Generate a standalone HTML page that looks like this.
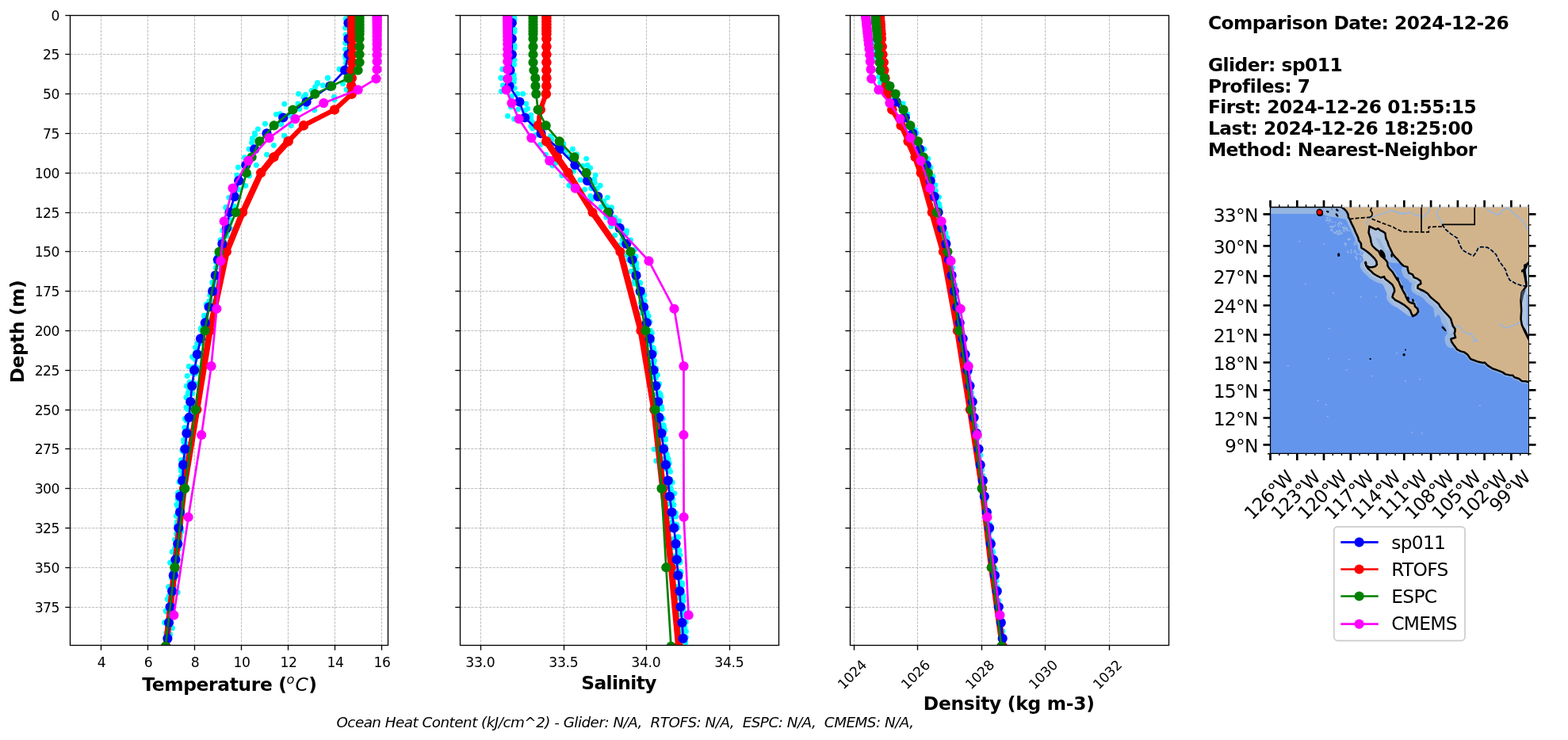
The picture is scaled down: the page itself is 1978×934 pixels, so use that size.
<!DOCTYPE html>
<html lang="en">
<head>
<meta charset="utf-8">
<title>Glider / model profile comparison</title>
<style>
html,body{margin:0;padding:0;background:#fff}
body{width:1978px;height:934px;overflow:hidden}
svg{display:block}
text{font-family:"DejaVu Sans","Liberation Sans",sans-serif;fill:#000}
.grid line{stroke:#b0b0b0;stroke-width:0.83;stroke-dasharray:3.2 1.38}
.tick line{stroke:#000;stroke-width:1.33}
.spine{fill:none;stroke:#000;stroke-width:1.33}
.tl{font-size:17.2px;letter-spacing:-0.45px}
.tr{font-size:17.2px;letter-spacing:-0.2px}
.tl2{font-size:17.2px;letter-spacing:-0.25px}
.al{font-size:23.33px;font-weight:bold}
.mi{font-style:italic;font-weight:normal}
.ft{font-size:18.33px;font-style:italic}
.info{font-size:23.33px;font-weight:bold;letter-spacing:-0.5px}
.lg{font-size:23.33px;letter-spacing:-0.72px}
.ml{font-size:23.33px;letter-spacing:-0.75px}
</style>
</head>
<body>
<svg width="1978" height="934" viewBox="0 0 1978 934">
<defs>
<clipPath id="c0"><rect x="88.5" y="19.5" width="401" height="795"/></clipPath>
<clipPath id="c1"><rect x="580.5" y="19.5" width="402" height="795"/></clipPath>
<clipPath id="c2"><rect x="1072.5" y="19.5" width="402" height="795"/></clipPath>
<clipPath id="u0"><rect x="88.5" y="19.5" width="401" height="198.7"/></clipPath>
<clipPath id="u1"><rect x="580.5" y="19.5" width="402" height="198.7"/></clipPath>
<clipPath id="u2"><rect x="1072.5" y="19.5" width="402" height="198.7"/></clipPath>
<clipPath id="mc"><rect x="1602.5" y="261.5" width="326" height="310.8"/></clipPath>
</defs>
<rect width="1978" height="934" fill="#fff"/>
<g class="grid"><line x1="127.5" y1="19.5" x2="127.5" y2="814.5"/><line x1="186.5" y1="19.5" x2="186.5" y2="814.5"/><line x1="245.5" y1="19.5" x2="245.5" y2="814.5"/><line x1="304.5" y1="19.5" x2="304.5" y2="814.5"/><line x1="363.5" y1="19.5" x2="363.5" y2="814.5"/><line x1="422.5" y1="19.5" x2="422.5" y2="814.5"/><line x1="481.5" y1="19.5" x2="481.5" y2="814.5"/><line x1="88.5" y1="68.5" x2="489.5" y2="68.5"/><line x1="88.5" y1="118.5" x2="489.5" y2="118.5"/><line x1="88.5" y1="168.5" x2="489.5" y2="168.5"/><line x1="88.5" y1="218.5" x2="489.5" y2="218.5"/><line x1="88.5" y1="268.5" x2="489.5" y2="268.5"/><line x1="88.5" y1="317.5" x2="489.5" y2="317.5"/><line x1="88.5" y1="367.5" x2="489.5" y2="367.5"/><line x1="88.5" y1="417.5" x2="489.5" y2="417.5"/><line x1="88.5" y1="467.5" x2="489.5" y2="467.5"/><line x1="88.5" y1="517.5" x2="489.5" y2="517.5"/><line x1="88.5" y1="566.5" x2="489.5" y2="566.5"/><line x1="88.5" y1="616.5" x2="489.5" y2="616.5"/><line x1="88.5" y1="666.5" x2="489.5" y2="666.5"/><line x1="88.5" y1="716.5" x2="489.5" y2="716.5"/><line x1="88.5" y1="766.5" x2="489.5" y2="766.5"/></g>
<g clip-path="url(#c0)">
<g fill="#00ffff"><circle cx="284.98" cy="282.3" r="3.45"/><circle cx="290.01" cy="281.74" r="3.45"/><circle cx="282.49" cy="290.07" r="3.45"/><circle cx="286.91" cy="292.73" r="3.45"/><circle cx="280.35" cy="302.49" r="3.45"/><circle cx="282.75" cy="305.51" r="3.45"/><circle cx="277.36" cy="317.66" r="3.45"/><circle cx="281.57" cy="315.7" r="3.45"/><circle cx="274.11" cy="322.53" r="3.45"/><circle cx="277.62" cy="322.8" r="3.45"/><circle cx="272.4" cy="330.73" r="3.45"/><circle cx="275.95" cy="333.18" r="3.45"/><circle cx="269.98" cy="346.38" r="3.45"/><circle cx="274.22" cy="346.51" r="3.45"/><circle cx="268.82" cy="358.22" r="3.45"/><circle cx="273.62" cy="357.28" r="3.45"/><circle cx="266.71" cy="364.83" r="3.45"/><circle cx="270.04" cy="363.88" r="3.45"/><circle cx="263.92" cy="380.07" r="3.45"/><circle cx="267.65" cy="380.74" r="3.45"/><circle cx="261.99" cy="388.3" r="3.45"/><circle cx="266" cy="389.86" r="3.45"/><circle cx="258.03" cy="400.32" r="3.45"/><circle cx="262.29" cy="404.53" r="3.45"/><circle cx="256.46" cy="410.45" r="3.45"/><circle cx="260.77" cy="412.99" r="3.45"/><circle cx="253.91" cy="416.74" r="3.45"/><circle cx="256.59" cy="420.9" r="3.45"/><circle cx="250.93" cy="426.85" r="3.45"/><circle cx="254.58" cy="428.55" r="3.45"/><circle cx="249.09" cy="432.63" r="3.45"/><circle cx="253.43" cy="433.2" r="3.45"/><circle cx="246.56" cy="445.31" r="3.45"/><circle cx="251.37" cy="445.8" r="3.45"/><circle cx="246.18" cy="453.85" r="3.45"/><circle cx="250.46" cy="449.34" r="3.45"/><circle cx="244.12" cy="463.17" r="3.45"/><circle cx="248.29" cy="463.59" r="3.45"/><circle cx="243.04" cy="470.91" r="3.45"/><circle cx="246.49" cy="471.82" r="3.45"/><circle cx="240.85" cy="483.65" r="3.45"/><circle cx="245.78" cy="483.83" r="3.45"/><circle cx="238.57" cy="492.44" r="3.45"/><circle cx="242.82" cy="496.77" r="3.45"/><circle cx="238.74" cy="504.34" r="3.45"/><circle cx="242.91" cy="508.82" r="3.45"/><circle cx="236.49" cy="516.62" r="3.45"/><circle cx="241.91" cy="513.87" r="3.45"/><circle cx="237.84" cy="524.69" r="3.45"/><circle cx="240.45" cy="523.15" r="3.45"/><circle cx="235.15" cy="531.01" r="3.45"/><circle cx="239.6" cy="528.5" r="3.45"/><circle cx="235.05" cy="540.09" r="3.45"/><circle cx="238.43" cy="543.82" r="3.45"/><circle cx="233.21" cy="554.85" r="3.45"/><circle cx="236.27" cy="549.47" r="3.45"/><circle cx="231.94" cy="558.31" r="3.45"/><circle cx="235.31" cy="560.15" r="3.45"/><circle cx="231.51" cy="570.51" r="3.45"/><circle cx="235.76" cy="574.2" r="3.45"/><circle cx="229.08" cy="582.73" r="3.45"/><circle cx="232.91" cy="579.45" r="3.45"/><circle cx="227.98" cy="590.51" r="3.45"/><circle cx="234.1" cy="586.44" r="3.45"/><circle cx="228.44" cy="601.46" r="3.45"/><circle cx="232.2" cy="603.06" r="3.45"/><circle cx="227.87" cy="608.92" r="3.45"/><circle cx="233.06" cy="608.92" r="3.45"/><circle cx="225.7" cy="621.16" r="3.45"/><circle cx="230.22" cy="619.78" r="3.45"/><circle cx="224.32" cy="630.54" r="3.45"/><circle cx="229.97" cy="633.21" r="3.45"/><circle cx="224.7" cy="640.73" r="3.45"/><circle cx="229.36" cy="642.08" r="3.45"/><circle cx="224.39" cy="651.83" r="3.45"/><circle cx="229.73" cy="650.24" r="3.45"/><circle cx="223.38" cy="658.66" r="3.45"/><circle cx="227.97" cy="660.2" r="3.45"/><circle cx="222.71" cy="662.84" r="3.45"/><circle cx="227.69" cy="665.53" r="3.45"/><circle cx="222.38" cy="673.98" r="3.45"/><circle cx="227.27" cy="676.51" r="3.45"/><circle cx="223.47" cy="681.31" r="3.45"/><circle cx="226.98" cy="680.72" r="3.45"/><circle cx="220.7" cy="691.44" r="3.45"/><circle cx="225.67" cy="692.82" r="3.45"/><circle cx="219.93" cy="697.6" r="3.45"/><circle cx="224.34" cy="701.24" r="3.45"/><circle cx="217.73" cy="711.15" r="3.45"/><circle cx="222.95" cy="710.75" r="3.45"/><circle cx="217.56" cy="721.64" r="3.45"/><circle cx="222.52" cy="720.89" r="3.45"/><circle cx="216.67" cy="730.3" r="3.45"/><circle cx="220.27" cy="730.93" r="3.45"/><circle cx="215.66" cy="741.28" r="3.45"/><circle cx="219.66" cy="739.42" r="3.45"/><circle cx="213.13" cy="752.23" r="3.45"/><circle cx="217.46" cy="749.71" r="3.45"/><circle cx="213.67" cy="765.95" r="3.45"/><circle cx="217.02" cy="763.56" r="3.45"/><circle cx="212.72" cy="774.23" r="3.45"/><circle cx="215.76" cy="773.56" r="3.45"/><circle cx="211.28" cy="786.19" r="3.45"/><circle cx="213.91" cy="789.11" r="3.45"/><circle cx="209.65" cy="798.9" r="3.45"/><circle cx="214.81" cy="800.71" r="3.45"/><circle cx="209.96" cy="808.89" r="3.45"/><circle cx="212.79" cy="806.11" r="3.45"/><circle cx="437.36" cy="23.93" r="3.45"/><circle cx="438.09" cy="31.02" r="3.45"/><circle cx="437.8" cy="45" r="3.45"/><circle cx="437.08" cy="54.6" r="3.45"/><circle cx="438.08" cy="64.81" r="3.45"/><circle cx="435.45" cy="70.48" r="3.45"/><circle cx="434.66" cy="86.1" r="3.45"/><circle cx="428.51" cy="87.22" r="3.45"/><circle cx="413.57" cy="98.3" r="3.45"/><circle cx="436.22" cy="23.63" r="3.45"/><circle cx="435.73" cy="35.2" r="3.45"/><circle cx="436.02" cy="43.87" r="3.45"/><circle cx="435.73" cy="54.47" r="3.45"/><circle cx="435.73" cy="62.17" r="3.45"/><circle cx="436.02" cy="73.74" r="3.45"/><circle cx="436.41" cy="79.52" r="3.45"/><circle cx="400.57" cy="104.57" r="3.45"/><circle cx="428.02" cy="87.54" r="3.45"/><circle cx="413.36" cy="98.46" r="3.45"/><circle cx="400.21" cy="105.74" r="3.45"/><circle cx="407.29" cy="107.76" r="3.45"/><circle cx="397.68" cy="109.78" r="3.45"/><circle cx="432.57" cy="105.74" r="3.45"/><circle cx="437.12" cy="113.32" r="3.45"/><circle cx="393.13" cy="114.33" r="3.45"/><circle cx="376.45" cy="118.38" r="3.45"/><circle cx="385.55" cy="119.39" r="3.45"/><circle cx="383.02" cy="122.42" r="3.45"/><circle cx="421.45" cy="122.42" r="3.45"/><circle cx="421.95" cy="125.96" r="3.45"/><circle cx="358.76" cy="131.22" r="3.45"/><circle cx="375.95" cy="131.02" r="3.45"/><circle cx="377.97" cy="137.59" r="3.45"/><circle cx="386.06" cy="135.06" r="3.45"/><circle cx="396.67" cy="139.11" r="3.45"/><circle cx="348.44" cy="144.36" r="3.45"/><circle cx="353.2" cy="143.66" r="3.45"/><circle cx="366.85" cy="146.18" r="3.45"/><circle cx="334.49" cy="156.3" r="3.45"/><circle cx="354.71" cy="156.8" r="3.45"/><circle cx="367.35" cy="158.62" r="3.45"/><circle cx="325.39" cy="162.87" r="3.45"/><circle cx="321.34" cy="168.13" r="3.45"/><circle cx="358.76" cy="171.16" r="3.45"/><circle cx="318.31" cy="175" r="3.45"/><circle cx="321.62" cy="170" r="3.45"/><circle cx="358.52" cy="171.52" r="3.45"/><circle cx="318.28" cy="175.06" r="3.45"/><circle cx="317.57" cy="180.11" r="3.45"/><circle cx="345.38" cy="183.45" r="3.45"/><circle cx="314.03" cy="188.2" r="3.45"/><circle cx="336.48" cy="195.28" r="3.45"/><circle cx="308.47" cy="198.82" r="3.45"/><circle cx="323.34" cy="208.42" r="3.45"/><circle cx="300.38" cy="211.25" r="3.45"/><circle cx="298.87" cy="221.06" r="3.45"/><circle cx="314.54" cy="222.07" r="3.45"/><circle cx="309.79" cy="234.41" r="3.45"/><circle cx="300.89" cy="239.26" r="3.45"/><circle cx="288.76" cy="249.37" r="3.45"/><circle cx="295.33" cy="260.5" r="3.45"/><circle cx="284.71" cy="262.01" r="3.45"/><circle cx="285.44" cy="261.56" r="3.45"/><circle cx="295.05" cy="260.55" r="3.45"/><circle cx="291" cy="277.74" r="3.45"/><circle cx="280.89" cy="290.88" r="3.45"/><circle cx="290.5" cy="288.36" r="3.45"/><circle cx="277.86" cy="303.02" r="3.45"/><circle cx="285.95" cy="297.96" r="3.45"/><circle cx="272.3" cy="337.9" r="3.45"/><circle cx="260.17" cy="384.2" r="3.45"/><circle cx="257.43" cy="398.24" r="3.45"/><circle cx="253.32" cy="414.52" r="3.45"/><circle cx="246.47" cy="438.5" r="3.45"/><circle cx="242.53" cy="450.49" r="3.45"/><circle cx="238.24" cy="462.48" r="3.45"/><circle cx="236.19" cy="474.48" r="3.45"/><circle cx="235.33" cy="487.32" r="3.45"/><circle cx="239.1" cy="482.18" r="3.45"/><circle cx="237.39" cy="495.89" r="3.45"/><circle cx="267.71" cy="356.27" r="3.45"/><circle cx="264.8" cy="372.55" r="3.45"/><circle cx="237.09" cy="496.85" r="3.45"/><circle cx="234.86" cy="501.65" r="3.45"/><circle cx="235.03" cy="513.98" r="3.45"/><circle cx="233.32" cy="528.54" r="3.45"/><circle cx="232.81" cy="539.68" r="3.45"/><circle cx="231.61" cy="555.1" r="3.45"/><circle cx="229.89" cy="568.8" r="3.45"/><circle cx="228.52" cy="580.79" r="3.45"/><circle cx="228.52" cy="594.5" r="3.45"/><circle cx="225.95" cy="608.2" r="3.45"/><circle cx="224.24" cy="622.76" r="3.45"/><circle cx="222.87" cy="636.98" r="3.45"/><circle cx="222.23" cy="651.13" r="3.45"/><circle cx="220.51" cy="681.11" r="3.45"/><circle cx="217.09" cy="696.53" r="3.45"/><circle cx="214.52" cy="710.24" r="3.45"/><circle cx="212.81" cy="741.07" r="3.45"/><circle cx="211.61" cy="756.49" r="3.45"/><circle cx="209.38" cy="771.05" r="3.45"/><circle cx="207.67" cy="785.61" r="3.45"/><circle cx="216.23" cy="792.46" r="3.45"/><circle cx="223.94" cy="747.92" r="3.45"/><circle cx="229.08" cy="670.84" r="3.45"/><circle cx="212.63" cy="740.6" r="3.45"/><circle cx="211.19" cy="756.02" r="3.45"/><circle cx="209.26" cy="771.43" r="3.45"/><circle cx="207.81" cy="785.89" r="3.45"/><circle cx="217.45" cy="792.63" r="3.45"/><circle cx="224.2" cy="747.34" r="3.45"/></g>
<g>
<line x1="444.3" y1="19" x2="444.29" y2="22.98" stroke="#ff0000" stroke-width="7.8" stroke-linecap="round"/>
<line x1="444.29" y1="22.98" x2="444.29" y2="26.97" stroke="#ff0000" stroke-width="7.8" stroke-linecap="round"/>
<line x1="444.29" y1="26.97" x2="444.28" y2="30.95" stroke="#ff0000" stroke-width="7.8" stroke-linecap="round"/>
<line x1="444.28" y1="30.95" x2="444.27" y2="34.94" stroke="#ff0000" stroke-width="7.8" stroke-linecap="round"/>
<line x1="444.27" y1="34.94" x2="444.27" y2="38.92" stroke="#ff0000" stroke-width="7.8" stroke-linecap="round"/>
<line x1="444.27" y1="38.92" x2="444.26" y2="42.9" stroke="#ff0000" stroke-width="7.8" stroke-linecap="round"/>
<line x1="444.26" y1="42.9" x2="444.25" y2="48.88" stroke="#ff0000" stroke-width="7.8" stroke-linecap="round"/>
<line x1="444.25" y1="48.88" x2="444.23" y2="58.84" stroke="#ff0000" stroke-width="7.8" stroke-linecap="round"/>
<line x1="444.23" y1="58.84" x2="444.22" y2="68.8" stroke="#ff0000" stroke-width="7.8" stroke-linecap="round"/>
<line x1="444.22" y1="68.8" x2="444.2" y2="78.76" stroke="#ff0000" stroke-width="7.8" stroke-linecap="round"/>
<line x1="444.2" y1="78.76" x2="443.2" y2="88.72" stroke="#ff0000" stroke-width="7.8" stroke-linecap="round"/>
<line x1="443.2" y1="88.72" x2="443.7" y2="98.68" stroke="#ff0000" stroke-width="7.8" stroke-linecap="round"/>
<line x1="443.7" y1="98.68" x2="443.3" y2="108.64" stroke="#ff0000" stroke-width="7.8" stroke-linecap="round"/>
<line x1="443.3" y1="108.64" x2="443.7" y2="118.6" stroke="#ff0000" stroke-width="7.8" stroke-linecap="round"/>
<line x1="443.7" y1="118.6" x2="422" y2="138.52" stroke="#ff0000" stroke-width="5.8" stroke-linecap="round"/>
<line x1="422" y1="138.52" x2="383" y2="158.44" stroke="#ff0000" stroke-width="5.8" stroke-linecap="round"/>
<line x1="383" y1="158.44" x2="363.6" y2="178.36" stroke="#ff0000" stroke-width="5.8" stroke-linecap="round"/>
<line x1="363.6" y1="178.36" x2="345.4" y2="198.28" stroke="#ff0000" stroke-width="7.8" stroke-linecap="round"/>
<line x1="345.4" y1="198.28" x2="329.2" y2="218.2" stroke="#ff0000" stroke-width="7.8" stroke-linecap="round"/>
<line x1="329.2" y1="218.2" x2="306.2" y2="268" stroke="#ff0000" stroke-width="7.8" stroke-linecap="round"/>
<line x1="306.2" y1="268" x2="285.9" y2="317.8" stroke="#ff0000" stroke-width="7.8" stroke-linecap="round"/>
<line x1="285.9" y1="317.8" x2="264.8" y2="417.4" stroke="#ff0000" stroke-width="7.8" stroke-linecap="round"/>
<line x1="264.8" y1="417.4" x2="248.4" y2="517" stroke="#ff0000" stroke-width="7.8" stroke-linecap="round"/>
<line x1="248.4" y1="517" x2="232" y2="616.6" stroke="#ff0000" stroke-width="7.8" stroke-linecap="round"/>
<line x1="232" y1="616.6" x2="220.5" y2="716.2" stroke="#ff0000" stroke-width="7.8" stroke-linecap="round"/>
<line x1="220.5" y1="716.2" x2="209.5" y2="815.8" stroke="#ff0000" stroke-width="7.8" stroke-linecap="round"/>
<g fill="#ff0000"><circle cx="444.3" cy="19" r="6.1"/><circle cx="444.29" cy="22.98" r="6.1"/><circle cx="444.29" cy="26.97" r="6.1"/><circle cx="444.28" cy="30.95" r="6.1"/><circle cx="444.27" cy="34.94" r="6.1"/><circle cx="444.27" cy="38.92" r="6.1"/><circle cx="444.26" cy="42.9" r="6.1"/><circle cx="444.25" cy="48.88" r="6.1"/><circle cx="444.23" cy="58.84" r="6.1"/><circle cx="444.22" cy="68.8" r="6.1"/><circle cx="444.2" cy="78.76" r="6.1"/><circle cx="443.2" cy="88.72" r="6.1"/><circle cx="443.7" cy="98.68" r="6.1"/><circle cx="443.3" cy="108.64" r="6.1"/><circle cx="443.7" cy="118.6" r="6.1"/><circle cx="422" cy="138.52" r="6.1"/><circle cx="383" cy="158.44" r="6.1"/><circle cx="363.6" cy="178.36" r="6.1"/><circle cx="345.4" cy="198.28" r="6.1"/><circle cx="329.2" cy="218.2" r="6.1"/><circle cx="306.2" cy="268" r="6.1"/><circle cx="285.9" cy="317.8" r="6.1"/><circle cx="264.8" cy="417.4" r="6.1"/><circle cx="248.4" cy="517" r="6.1"/><circle cx="232" cy="616.6" r="6.1"/><circle cx="220.5" cy="716.2" r="6.1"/><circle cx="209.5" cy="815.8" r="6.1"/></g></g>
<g>
<polyline fill="none" stroke="#0000ff" stroke-width="2.7" stroke-linejoin="round" stroke-linecap="round" points="439.4,28.96 439.4,48.88 439.4,68.8 435,88.72 416.4,108.64 386.6,128.56 357.2,148.48 336.5,168.4 321.1,188.32 310.3,208.24 301.2,228.16 295.8,248.08 289.5,268 285.9,287.92 280.4,307.84 274.8,327.76 271.8,347.68 268.2,367.6 263.6,387.52 258.8,407.44 253.1,427.36 248.9,447.28 245.1,467.2 242.2,487.12 240.2,507.04 238.5,526.96 235.4,546.88 233.3,566.8 231.1,586.72 230.2,606.64 227.3,626.56 227,646.48 225.3,666.4 224.3,686.32 221.4,706.24 218.8,726.16 217.1,746.08 214.6,766 213,785.92 211.4,805.84"/>
<g fill="#0000ff"><circle cx="439.4" cy="28.96" r="6.1"/><circle cx="439.4" cy="48.88" r="6.1"/><circle cx="439.4" cy="68.8" r="6.1"/><circle cx="435" cy="88.72" r="6.1"/><circle cx="416.4" cy="108.64" r="6.1"/><circle cx="386.6" cy="128.56" r="6.1"/><circle cx="357.2" cy="148.48" r="6.1"/><circle cx="336.5" cy="168.4" r="6.1"/><circle cx="321.1" cy="188.32" r="6.1"/><circle cx="310.3" cy="208.24" r="6.1"/><circle cx="301.2" cy="228.16" r="6.1"/><circle cx="295.8" cy="248.08" r="6.1"/><circle cx="289.5" cy="268" r="6.1"/><circle cx="285.9" cy="287.92" r="6.1"/><circle cx="280.4" cy="307.84" r="6.1"/><circle cx="274.8" cy="327.76" r="6.1"/><circle cx="271.8" cy="347.68" r="6.1"/><circle cx="268.2" cy="367.6" r="6.1"/><circle cx="263.6" cy="387.52" r="6.1"/><circle cx="258.8" cy="407.44" r="6.1"/><circle cx="253.1" cy="427.36" r="6.1"/><circle cx="248.9" cy="447.28" r="6.1"/><circle cx="245.1" cy="467.2" r="6.1"/><circle cx="242.2" cy="487.12" r="6.1"/><circle cx="240.2" cy="507.04" r="6.1"/><circle cx="238.5" cy="526.96" r="6.1"/><circle cx="235.4" cy="546.88" r="6.1"/><circle cx="233.3" cy="566.8" r="6.1"/><circle cx="231.1" cy="586.72" r="6.1"/><circle cx="230.2" cy="606.64" r="6.1"/><circle cx="227.3" cy="626.56" r="6.1"/><circle cx="227" cy="646.48" r="6.1"/><circle cx="225.3" cy="666.4" r="6.1"/><circle cx="224.3" cy="686.32" r="6.1"/><circle cx="221.4" cy="706.24" r="6.1"/><circle cx="218.8" cy="726.16" r="6.1"/><circle cx="217.1" cy="746.08" r="6.1"/><circle cx="214.6" cy="766" r="6.1"/><circle cx="213" cy="785.92" r="6.1"/><circle cx="211.4" cy="805.84" r="6.1"/></g></g>
<g clip-path="url(#u0)">
<line x1="444.3" y1="19" x2="444.29" y2="22.98" stroke="#ff0000" stroke-width="7.8" stroke-linecap="round"/>
<line x1="444.29" y1="22.98" x2="444.29" y2="26.97" stroke="#ff0000" stroke-width="7.8" stroke-linecap="round"/>
<line x1="444.29" y1="26.97" x2="444.28" y2="30.95" stroke="#ff0000" stroke-width="7.8" stroke-linecap="round"/>
<line x1="444.28" y1="30.95" x2="444.27" y2="34.94" stroke="#ff0000" stroke-width="7.8" stroke-linecap="round"/>
<line x1="444.27" y1="34.94" x2="444.27" y2="38.92" stroke="#ff0000" stroke-width="7.8" stroke-linecap="round"/>
<line x1="444.27" y1="38.92" x2="444.26" y2="42.9" stroke="#ff0000" stroke-width="7.8" stroke-linecap="round"/>
<line x1="444.26" y1="42.9" x2="444.25" y2="48.88" stroke="#ff0000" stroke-width="7.8" stroke-linecap="round"/>
<line x1="444.25" y1="48.88" x2="444.23" y2="58.84" stroke="#ff0000" stroke-width="7.8" stroke-linecap="round"/>
<line x1="444.23" y1="58.84" x2="444.22" y2="68.8" stroke="#ff0000" stroke-width="7.8" stroke-linecap="round"/>
<line x1="444.22" y1="68.8" x2="444.2" y2="78.76" stroke="#ff0000" stroke-width="7.8" stroke-linecap="round"/>
<line x1="444.2" y1="78.76" x2="443.2" y2="88.72" stroke="#ff0000" stroke-width="7.8" stroke-linecap="round"/>
<line x1="443.2" y1="88.72" x2="443.7" y2="98.68" stroke="#ff0000" stroke-width="7.8" stroke-linecap="round"/>
<line x1="443.7" y1="98.68" x2="443.3" y2="108.64" stroke="#ff0000" stroke-width="7.8" stroke-linecap="round"/>
<line x1="443.3" y1="108.64" x2="443.7" y2="118.6" stroke="#ff0000" stroke-width="7.8" stroke-linecap="round"/>
<line x1="443.7" y1="118.6" x2="422" y2="138.52" stroke="#ff0000" stroke-width="5.8" stroke-linecap="round"/>
<line x1="422" y1="138.52" x2="383" y2="158.44" stroke="#ff0000" stroke-width="5.8" stroke-linecap="round"/>
<line x1="383" y1="158.44" x2="363.6" y2="178.36" stroke="#ff0000" stroke-width="5.8" stroke-linecap="round"/>
<line x1="363.6" y1="178.36" x2="345.4" y2="198.28" stroke="#ff0000" stroke-width="7.8" stroke-linecap="round"/>
<line x1="345.4" y1="198.28" x2="329.2" y2="218.2" stroke="#ff0000" stroke-width="7.8" stroke-linecap="round"/>
<line x1="329.2" y1="218.2" x2="306.2" y2="268" stroke="#ff0000" stroke-width="7.8" stroke-linecap="round"/>
<line x1="306.2" y1="268" x2="285.9" y2="317.8" stroke="#ff0000" stroke-width="7.8" stroke-linecap="round"/>
<line x1="285.9" y1="317.8" x2="264.8" y2="417.4" stroke="#ff0000" stroke-width="7.8" stroke-linecap="round"/>
<line x1="264.8" y1="417.4" x2="248.4" y2="517" stroke="#ff0000" stroke-width="7.8" stroke-linecap="round"/>
<line x1="248.4" y1="517" x2="232" y2="616.6" stroke="#ff0000" stroke-width="7.8" stroke-linecap="round"/>
<line x1="232" y1="616.6" x2="220.5" y2="716.2" stroke="#ff0000" stroke-width="7.8" stroke-linecap="round"/>
<line x1="220.5" y1="716.2" x2="209.5" y2="815.8" stroke="#ff0000" stroke-width="7.8" stroke-linecap="round"/>
<g fill="#ff0000"><circle cx="444.3" cy="19" r="6.1"/><circle cx="444.29" cy="22.98" r="6.1"/><circle cx="444.29" cy="26.97" r="6.1"/><circle cx="444.28" cy="30.95" r="6.1"/><circle cx="444.27" cy="34.94" r="6.1"/><circle cx="444.27" cy="38.92" r="6.1"/><circle cx="444.26" cy="42.9" r="6.1"/><circle cx="444.25" cy="48.88" r="6.1"/><circle cx="444.23" cy="58.84" r="6.1"/><circle cx="444.22" cy="68.8" r="6.1"/><circle cx="444.2" cy="78.76" r="6.1"/><circle cx="443.2" cy="88.72" r="6.1"/><circle cx="443.7" cy="98.68" r="6.1"/><circle cx="443.3" cy="108.64" r="6.1"/><circle cx="443.7" cy="118.6" r="6.1"/><circle cx="422" cy="138.52" r="6.1"/><circle cx="383" cy="158.44" r="6.1"/><circle cx="363.6" cy="178.36" r="6.1"/><circle cx="345.4" cy="198.28" r="6.1"/><circle cx="329.2" cy="218.2" r="6.1"/><circle cx="306.2" cy="268" r="6.1"/><circle cx="285.9" cy="317.8" r="6.1"/><circle cx="264.8" cy="417.4" r="6.1"/><circle cx="248.4" cy="517" r="6.1"/><circle cx="232" cy="616.6" r="6.1"/><circle cx="220.5" cy="716.2" r="6.1"/><circle cx="209.5" cy="815.8" r="6.1"/></g></g>
<g>
<polyline fill="none" stroke="#008000" stroke-width="2.7" stroke-linejoin="round" stroke-linecap="round" points="453.6,19 453.6,22.98 453.6,26.97 453.6,30.95 453.6,34.94 453.6,38.92 453.6,42.9 453.6,48.88 453.6,58.84 453.6,68.8 453.6,78.76 451.6,88.72 439.4,98.68 418.2,108.64 397.4,118.6 369.4,138.52 345.6,158.44 327.4,178.36 317.6,198.28 310.8,218.2 297.6,268 276.5,317.8 258.5,417.4 246.5,517 233.3,616.6 220.5,716.2 208.8,815.8"/>
<g fill="#008000"><circle cx="453.6" cy="19" r="6.1"/><circle cx="453.6" cy="22.98" r="6.1"/><circle cx="453.6" cy="26.97" r="6.1"/><circle cx="453.6" cy="30.95" r="6.1"/><circle cx="453.6" cy="34.94" r="6.1"/><circle cx="453.6" cy="38.92" r="6.1"/><circle cx="453.6" cy="42.9" r="6.1"/><circle cx="453.6" cy="48.88" r="6.1"/><circle cx="453.6" cy="58.84" r="6.1"/><circle cx="453.6" cy="68.8" r="6.1"/><circle cx="453.6" cy="78.76" r="6.1"/><circle cx="451.6" cy="88.72" r="6.1"/><circle cx="439.4" cy="98.68" r="6.1"/><circle cx="418.2" cy="108.64" r="6.1"/><circle cx="397.4" cy="118.6" r="6.1"/><circle cx="369.4" cy="138.52" r="6.1"/><circle cx="345.6" cy="158.44" r="6.1"/><circle cx="327.4" cy="178.36" r="6.1"/><circle cx="317.6" cy="198.28" r="6.1"/><circle cx="310.8" cy="218.2" r="6.1"/><circle cx="297.6" cy="268" r="6.1"/><circle cx="276.5" cy="317.8" r="6.1"/><circle cx="258.5" cy="417.4" r="6.1"/><circle cx="246.5" cy="517" r="6.1"/><circle cx="233.3" cy="616.6" r="6.1"/><circle cx="220.5" cy="716.2" r="6.1"/><circle cx="208.8" cy="815.8" r="6.1"/></g></g>
<g>
<polyline fill="none" stroke="#ff00ff" stroke-width="2.7" stroke-linejoin="round" stroke-linecap="round" points="475.6,19.98 475.6,22.07 475.6,24.28 475.6,26.61 475.6,29.12 475.6,31.83 475.6,34.8 475.6,38.06 475.6,41.73 475.6,45.83 475.6,50.49 475.6,55.85 475.6,62.03 475.6,69.22 475.6,77.64 475.5,87.58 474.5,99.36 451.6,113.36 408.3,130.07 372.4,150.09 339.6,174.08 313.3,202.9 293.6,237.58 282.7,279.29 278.4,329.45 273.4,389.77 266.5,462.18 254.2,548.95 237.6,652.71 219.3,776.38"/>
<g fill="#ff00ff"><circle cx="475.6" cy="19.98" r="6.1"/><circle cx="475.6" cy="22.07" r="6.1"/><circle cx="475.6" cy="24.28" r="6.1"/><circle cx="475.6" cy="26.61" r="6.1"/><circle cx="475.6" cy="29.12" r="6.1"/><circle cx="475.6" cy="31.83" r="6.1"/><circle cx="475.6" cy="34.8" r="6.1"/><circle cx="475.6" cy="38.06" r="6.1"/><circle cx="475.6" cy="41.73" r="6.1"/><circle cx="475.6" cy="45.83" r="6.1"/><circle cx="475.6" cy="50.49" r="6.1"/><circle cx="475.6" cy="55.85" r="6.1"/><circle cx="475.6" cy="62.03" r="6.1"/><circle cx="475.6" cy="69.22" r="6.1"/><circle cx="475.6" cy="77.64" r="6.1"/><circle cx="475.5" cy="87.58" r="6.1"/><circle cx="474.5" cy="99.36" r="6.1"/><circle cx="451.6" cy="113.36" r="6.1"/><circle cx="408.3" cy="130.07" r="6.1"/><circle cx="372.4" cy="150.09" r="6.1"/><circle cx="339.6" cy="174.08" r="6.1"/><circle cx="313.3" cy="202.9" r="6.1"/><circle cx="293.6" cy="237.58" r="6.1"/><circle cx="282.7" cy="279.29" r="6.1"/><circle cx="278.4" cy="329.45" r="6.1"/><circle cx="273.4" cy="389.77" r="6.1"/><circle cx="266.5" cy="462.18" r="6.1"/><circle cx="254.2" cy="548.95" r="6.1"/><circle cx="237.6" cy="652.71" r="6.1"/><circle cx="219.3" cy="776.38" r="6.1"/></g></g>
</g>
<g class="tick"><line x1="127.5" y1="814.5" x2="127.5" y2="820.7"/><line x1="186.5" y1="814.5" x2="186.5" y2="820.7"/><line x1="245.5" y1="814.5" x2="245.5" y2="820.7"/><line x1="304.5" y1="814.5" x2="304.5" y2="820.7"/><line x1="363.5" y1="814.5" x2="363.5" y2="820.7"/><line x1="422.5" y1="814.5" x2="422.5" y2="820.7"/><line x1="481.5" y1="814.5" x2="481.5" y2="820.7"/><line x1="82.3" y1="19.5" x2="88.5" y2="19.5"/><line x1="82.3" y1="68.5" x2="88.5" y2="68.5"/><line x1="82.3" y1="118.5" x2="88.5" y2="118.5"/><line x1="82.3" y1="168.5" x2="88.5" y2="168.5"/><line x1="82.3" y1="218.5" x2="88.5" y2="218.5"/><line x1="82.3" y1="268.5" x2="88.5" y2="268.5"/><line x1="82.3" y1="317.5" x2="88.5" y2="317.5"/><line x1="82.3" y1="367.5" x2="88.5" y2="367.5"/><line x1="82.3" y1="417.5" x2="88.5" y2="417.5"/><line x1="82.3" y1="467.5" x2="88.5" y2="467.5"/><line x1="82.3" y1="517.5" x2="88.5" y2="517.5"/><line x1="82.3" y1="566.5" x2="88.5" y2="566.5"/><line x1="82.3" y1="616.5" x2="88.5" y2="616.5"/><line x1="82.3" y1="666.5" x2="88.5" y2="666.5"/><line x1="82.3" y1="716.5" x2="88.5" y2="716.5"/><line x1="82.3" y1="766.5" x2="88.5" y2="766.5"/></g>
<rect class="spine" x="88.5" y="19.5" width="401" height="795"/>
<g><text class="tl" text-anchor="middle" x="128" y="842.1">4</text><text class="tl" text-anchor="middle" x="187" y="842.1">6</text><text class="tl" text-anchor="middle" x="246" y="842.1">8</text><text class="tl" text-anchor="middle" x="305" y="842.1">10</text><text class="tl" text-anchor="middle" x="364" y="842.1">12</text><text class="tl" text-anchor="middle" x="423" y="842.1">14</text><text class="tl" text-anchor="middle" x="482" y="842.1">16</text><text class="tl" text-anchor="end" x="75.1" y="26.1">0</text><text class="tl" text-anchor="end" x="75.1" y="75.1">25</text><text class="tl" text-anchor="end" x="75.1" y="125.1">50</text><text class="tl" text-anchor="end" x="75.1" y="175.1">75</text><text class="tl" text-anchor="end" x="75.1" y="225.1">100</text><text class="tl" text-anchor="end" x="75.1" y="275.1">125</text><text class="tl" text-anchor="end" x="75.1" y="324.1">150</text><text class="tl" text-anchor="end" x="75.1" y="374.1">175</text><text class="tl" text-anchor="end" x="75.1" y="424.1">200</text><text class="tl" text-anchor="end" x="75.1" y="474.1">225</text><text class="tl" text-anchor="end" x="75.1" y="524.1">250</text><text class="tl" text-anchor="end" x="75.1" y="573.1">275</text><text class="tl" text-anchor="end" x="75.1" y="623.1">300</text><text class="tl" text-anchor="end" x="75.1" y="673.1">325</text><text class="tl" text-anchor="end" x="75.1" y="723.1">350</text><text class="tl" text-anchor="end" x="75.1" y="773.1">375</text></g>
<g class="grid"><line x1="606.5" y1="19.5" x2="606.5" y2="814.5"/><line x1="711.5" y1="19.5" x2="711.5" y2="814.5"/><line x1="815.5" y1="19.5" x2="815.5" y2="814.5"/><line x1="920.5" y1="19.5" x2="920.5" y2="814.5"/><line x1="580.5" y1="68.5" x2="982.5" y2="68.5"/><line x1="580.5" y1="118.5" x2="982.5" y2="118.5"/><line x1="580.5" y1="168.5" x2="982.5" y2="168.5"/><line x1="580.5" y1="218.5" x2="982.5" y2="218.5"/><line x1="580.5" y1="268.5" x2="982.5" y2="268.5"/><line x1="580.5" y1="317.5" x2="982.5" y2="317.5"/><line x1="580.5" y1="367.5" x2="982.5" y2="367.5"/><line x1="580.5" y1="417.5" x2="982.5" y2="417.5"/><line x1="580.5" y1="467.5" x2="982.5" y2="467.5"/><line x1="580.5" y1="517.5" x2="982.5" y2="517.5"/><line x1="580.5" y1="566.5" x2="982.5" y2="566.5"/><line x1="580.5" y1="616.5" x2="982.5" y2="616.5"/><line x1="580.5" y1="666.5" x2="982.5" y2="666.5"/><line x1="580.5" y1="716.5" x2="982.5" y2="716.5"/><line x1="580.5" y1="766.5" x2="982.5" y2="766.5"/></g>
<g clip-path="url(#c1)">
<g fill="#00ffff"><circle cx="791.94" cy="318.93" r="3.45"/><circle cx="797.42" cy="317.68" r="3.45"/><circle cx="793.02" cy="327.9" r="3.45"/><circle cx="800.07" cy="326.09" r="3.45"/><circle cx="797.73" cy="333.67" r="3.45"/><circle cx="802.56" cy="331.87" r="3.45"/><circle cx="799.91" cy="344.56" r="3.45"/><circle cx="803.76" cy="349.13" r="3.45"/><circle cx="800.86" cy="358.24" r="3.45"/><circle cx="806.68" cy="356.53" r="3.45"/><circle cx="805.81" cy="370.19" r="3.45"/><circle cx="810.31" cy="365.43" r="3.45"/><circle cx="808.35" cy="381.91" r="3.45"/><circle cx="813.14" cy="379.66" r="3.45"/><circle cx="809.16" cy="386.5" r="3.45"/><circle cx="813.78" cy="390.56" r="3.45"/><circle cx="809.89" cy="395.01" r="3.45"/><circle cx="818.31" cy="399.1" r="3.45"/><circle cx="812.19" cy="408.71" r="3.45"/><circle cx="819.81" cy="405.97" r="3.45"/><circle cx="813.86" cy="416.26" r="3.45"/><circle cx="822.29" cy="420.36" r="3.45"/><circle cx="817.08" cy="427.18" r="3.45"/><circle cx="822.41" cy="430.43" r="3.45"/><circle cx="819.3" cy="434.32" r="3.45"/><circle cx="824.6" cy="439.7" r="3.45"/><circle cx="819.1" cy="446.99" r="3.45"/><circle cx="825.94" cy="445.03" r="3.45"/><circle cx="820.13" cy="458.03" r="3.45"/><circle cx="825.42" cy="455.33" r="3.45"/><circle cx="820.03" cy="465.43" r="3.45"/><circle cx="827.75" cy="465.19" r="3.45"/><circle cx="823.78" cy="475.81" r="3.45"/><circle cx="829.39" cy="473.19" r="3.45"/><circle cx="823.5" cy="487.38" r="3.45"/><circle cx="831.56" cy="484.44" r="3.45"/><circle cx="824.43" cy="498.42" r="3.45"/><circle cx="833.15" cy="497.82" r="3.45"/><circle cx="827.94" cy="509.34" r="3.45"/><circle cx="832.21" cy="504.52" r="3.45"/><circle cx="827.01" cy="518.78" r="3.45"/><circle cx="835.01" cy="516.2" r="3.45"/><circle cx="829.07" cy="526.91" r="3.45"/><circle cx="833.5" cy="524.82" r="3.45"/><circle cx="828.58" cy="539.27" r="3.45"/><circle cx="836.68" cy="536.26" r="3.45"/><circle cx="829.71" cy="545.02" r="3.45"/><circle cx="837.94" cy="542.05" r="3.45"/><circle cx="831.21" cy="554.87" r="3.45"/><circle cx="839.54" cy="553.71" r="3.45"/><circle cx="833.25" cy="564.71" r="3.45"/><circle cx="839.01" cy="562.83" r="3.45"/><circle cx="833.87" cy="568.32" r="3.45"/><circle cx="841.37" cy="573.96" r="3.45"/><circle cx="835.44" cy="579.22" r="3.45"/><circle cx="842.92" cy="578.86" r="3.45"/><circle cx="837.26" cy="589.61" r="3.45"/><circle cx="844.33" cy="584.67" r="3.45"/><circle cx="839.25" cy="591.57" r="3.45"/><circle cx="843.93" cy="592.26" r="3.45"/><circle cx="839.16" cy="604.33" r="3.45"/><circle cx="845.86" cy="605.51" r="3.45"/><circle cx="841.56" cy="614.49" r="3.45"/><circle cx="845.81" cy="615.75" r="3.45"/><circle cx="841.75" cy="624.98" r="3.45"/><circle cx="848.66" cy="629.93" r="3.45"/><circle cx="842.57" cy="636.35" r="3.45"/><circle cx="849.46" cy="636.69" r="3.45"/><circle cx="846.05" cy="652.1" r="3.45"/><circle cx="850.37" cy="652.01" r="3.45"/><circle cx="847.66" cy="659.01" r="3.45"/><circle cx="851.75" cy="662.07" r="3.45"/><circle cx="847.37" cy="668.71" r="3.45"/><circle cx="854.87" cy="666.01" r="3.45"/><circle cx="848.58" cy="680.38" r="3.45"/><circle cx="856.15" cy="677.84" r="3.45"/><circle cx="849.6" cy="690.49" r="3.45"/><circle cx="854.43" cy="692.01" r="3.45"/><circle cx="850.9" cy="701.85" r="3.45"/><circle cx="858.08" cy="700.6" r="3.45"/><circle cx="852.32" cy="712.25" r="3.45"/><circle cx="857.91" cy="710.06" r="3.45"/><circle cx="853.4" cy="721.92" r="3.45"/><circle cx="857.84" cy="721.16" r="3.45"/><circle cx="853.1" cy="728.71" r="3.45"/><circle cx="857.49" cy="729.96" r="3.45"/><circle cx="853.05" cy="740.7" r="3.45"/><circle cx="860.48" cy="738.54" r="3.45"/><circle cx="854.86" cy="747.11" r="3.45"/><circle cx="861.01" cy="749.95" r="3.45"/><circle cx="854.94" cy="754.62" r="3.45"/><circle cx="861.65" cy="757" r="3.45"/><circle cx="855.09" cy="767.84" r="3.45"/><circle cx="862.1" cy="768.44" r="3.45"/><circle cx="856.03" cy="775.92" r="3.45"/><circle cx="863.99" cy="776.77" r="3.45"/><circle cx="856.57" cy="790.86" r="3.45"/><circle cx="865.2" cy="785.14" r="3.45"/><circle cx="858.7" cy="796.28" r="3.45"/><circle cx="863.11" cy="797.25" r="3.45"/><circle cx="859.17" cy="807.03" r="3.45"/><circle cx="865.41" cy="804.15" r="3.45"/><circle cx="648.97" cy="24.6" r="3.45"/><circle cx="648.97" cy="37.12" r="3.45"/><circle cx="648.97" cy="40.01" r="3.45"/><circle cx="648.97" cy="57.36" r="3.45"/><circle cx="648.97" cy="60.25" r="3.45"/><circle cx="648.97" cy="75.66" r="3.45"/><circle cx="648.58" cy="81.44" r="3.45"/><circle cx="633.84" cy="87.22" r="3.45"/><circle cx="631.91" cy="98.3" r="3.45"/><circle cx="648.29" cy="98.79" r="3.45"/><circle cx="648.29" cy="103.6" r="3.45"/><circle cx="648.77" cy="21.71" r="3.45"/><circle cx="633.87" cy="87.54" r="3.45"/><circle cx="632.15" cy="98.46" r="3.45"/><circle cx="648.33" cy="94.62" r="3.45"/><circle cx="648.53" cy="99.67" r="3.45"/><circle cx="647.52" cy="103.21" r="3.45"/><circle cx="634.38" cy="107.76" r="3.45"/><circle cx="649.24" cy="111.3" r="3.45"/><circle cx="632.15" cy="115.34" r="3.45"/><circle cx="659.66" cy="118.38" r="3.45"/><circle cx="652.58" cy="118.38" r="3.45"/><circle cx="645.5" cy="121.41" r="3.45"/><circle cx="663.7" cy="131.02" r="3.45"/><circle cx="644.49" cy="135.06" r="3.45"/><circle cx="653.59" cy="138.1" r="3.45"/><circle cx="665.72" cy="137.08" r="3.45"/><circle cx="662.69" cy="139.11" r="3.45"/><circle cx="669.77" cy="145.17" r="3.45"/><circle cx="640.44" cy="146.39" r="3.45"/><circle cx="648.53" cy="150.23" r="3.45"/><circle cx="669.77" cy="149.72" r="3.45"/><circle cx="672.3" cy="154.78" r="3.45"/><circle cx="669.77" cy="159.33" r="3.45"/><circle cx="671.79" cy="162.36" r="3.45"/><circle cx="675.83" cy="170.45" r="3.45"/><circle cx="694.54" cy="171.97" r="3.45"/><circle cx="696.06" cy="176.01" r="3.45"/><circle cx="681.46" cy="182.64" r="3.45"/><circle cx="694.6" cy="173.03" r="3.45"/><circle cx="710.78" cy="181.63" r="3.45"/><circle cx="722.41" cy="188.2" r="3.45"/><circle cx="713.31" cy="190.73" r="3.45"/><circle cx="688.53" cy="195.28" r="3.45"/><circle cx="727.46" cy="194.77" r="3.45"/><circle cx="717.86" cy="197.3" r="3.45"/><circle cx="739.6" cy="200.33" r="3.45"/><circle cx="697.13" cy="208.93" r="3.45"/><circle cx="700.67" cy="205.89" r="3.45"/><circle cx="741.11" cy="208.42" r="3.45"/><circle cx="735.05" cy="209.43" r="3.45"/><circle cx="744.65" cy="211.96" r="3.45"/><circle cx="723.42" cy="216.51" r="3.45"/><circle cx="708.76" cy="221.57" r="3.45"/><circle cx="751.22" cy="221.06" r="3.45"/><circle cx="749.71" cy="226.12" r="3.45"/><circle cx="732.01" cy="227.13" r="3.45"/><circle cx="750.21" cy="230.67" r="3.45"/><circle cx="717.86" cy="234.21" r="3.45"/><circle cx="757.29" cy="234.21" r="3.45"/><circle cx="737.57" cy="239.26" r="3.45"/><circle cx="745.66" cy="237.75" r="3.45"/><circle cx="753.25" cy="237.75" r="3.45"/><circle cx="744.65" cy="247.35" r="3.45"/><circle cx="766.39" cy="249.37" r="3.45"/><circle cx="746.17" cy="251.9" r="3.45"/><circle cx="761.84" cy="253.92" r="3.45"/><circle cx="758.3" cy="261.51" r="3.45"/><circle cx="771.45" cy="262.01" r="3.45"/><circle cx="764.87" cy="259.99" r="3.45"/><circle cx="758.65" cy="261.06" r="3.45"/><circle cx="771.28" cy="262.07" r="3.45"/><circle cx="764.71" cy="274.2" r="3.45"/><circle cx="775.83" cy="274.71" r="3.45"/><circle cx="780.89" cy="279.05" r="3.45"/><circle cx="770.78" cy="285.83" r="3.45"/><circle cx="790.5" cy="291.39" r="3.45"/><circle cx="775.63" cy="296.95" r="3.45"/><circle cx="789.99" cy="294.93" r="3.45"/><circle cx="795.55" cy="303.02" r="3.45"/><circle cx="784.93" cy="302.51" r="3.45"/><circle cx="782.41" cy="309.08" r="3.45"/><circle cx="801.11" cy="314.65" r="3.45"/><circle cx="791.51" cy="322.23" r="3.45"/><circle cx="802.12" cy="323.75" r="3.45"/><circle cx="802.63" cy="334.87" r="3.45"/><circle cx="803.13" cy="338.91" r="3.45"/><circle cx="796.56" cy="342.45" r="3.45"/><circle cx="796.53" cy="342.57" r="3.45"/><circle cx="799.96" cy="355.42" r="3.45"/><circle cx="807.67" cy="357.13" r="3.45"/><circle cx="812.81" cy="372.55" r="3.45"/><circle cx="816.23" cy="394.82" r="3.45"/><circle cx="820.51" cy="417.09" r="3.45"/><circle cx="823.08" cy="438.5" r="3.45"/><circle cx="824.8" cy="458.2" r="3.45"/><circle cx="827.37" cy="477.04" r="3.45"/><circle cx="831.65" cy="495.89" r="3.45"/><circle cx="811.95" cy="379.4" r="3.45"/><circle cx="831.61" cy="496.85" r="3.45"/><circle cx="833.66" cy="501.13" r="3.45"/><circle cx="834.52" cy="513.13" r="3.45"/><circle cx="836.23" cy="528.54" r="3.45"/><circle cx="837.43" cy="537.97" r="3.45"/><circle cx="838.8" cy="543.1" r="3.45"/><circle cx="839.66" cy="555.1" r="3.45"/><circle cx="825.1" cy="567.09" r="3.45"/><circle cx="840.51" cy="572.23" r="3.45"/><circle cx="843.08" cy="579.94" r="3.45"/><circle cx="827.67" cy="581.65" r="3.45"/><circle cx="845.65" cy="595.35" r="3.45"/><circle cx="848.22" cy="609.06" r="3.45"/><circle cx="846.51" cy="617.62" r="3.45"/><circle cx="850.79" cy="622.76" r="3.45"/><circle cx="849.94" cy="637.32" r="3.45"/><circle cx="852.51" cy="647.6" r="3.45"/><circle cx="852.81" cy="651.99" r="3.45"/><circle cx="853.66" cy="662.27" r="3.45"/><circle cx="855.37" cy="677.69" r="3.45"/><circle cx="857.09" cy="694.82" r="3.45"/><circle cx="857.94" cy="708.52" r="3.45"/><circle cx="859.14" cy="722.23" r="3.45"/><circle cx="860.51" cy="735.93" r="3.45"/><circle cx="861.37" cy="751.35" r="3.45"/><circle cx="861.88" cy="758.2" r="3.45"/><circle cx="865.14" cy="796.75" r="3.45"/><circle cx="863.08" cy="773.62" r="3.45"/><circle cx="860.46" cy="736.26" r="3.45"/><circle cx="861.71" cy="753.13" r="3.45"/><circle cx="861.9" cy="758.43" r="3.45"/><circle cx="863.83" cy="791.67" r="3.45"/><circle cx="865.28" cy="796.97" r="3.45"/><circle cx="864.79" cy="810.94" r="3.45"/><circle cx="862.87" cy="773.36" r="3.45"/></g>
<g>
<line x1="689.4" y1="19" x2="689.4" y2="22.98" stroke="#ff0000" stroke-width="8.0" stroke-linecap="round"/>
<line x1="689.4" y1="22.98" x2="689.4" y2="26.97" stroke="#ff0000" stroke-width="8.0" stroke-linecap="round"/>
<line x1="689.4" y1="26.97" x2="689.4" y2="30.95" stroke="#ff0000" stroke-width="8.0" stroke-linecap="round"/>
<line x1="689.4" y1="30.95" x2="689.4" y2="34.94" stroke="#ff0000" stroke-width="8.0" stroke-linecap="round"/>
<line x1="689.4" y1="34.94" x2="689.4" y2="38.92" stroke="#ff0000" stroke-width="8.0" stroke-linecap="round"/>
<line x1="689.4" y1="38.92" x2="689.4" y2="42.9" stroke="#ff0000" stroke-width="8.0" stroke-linecap="round"/>
<line x1="689.4" y1="42.9" x2="689.4" y2="48.88" stroke="#ff0000" stroke-width="8.0" stroke-linecap="round"/>
<line x1="689.4" y1="48.88" x2="689.4" y2="58.84" stroke="#ff0000" stroke-width="8.0" stroke-linecap="round"/>
<line x1="689.4" y1="58.84" x2="689.4" y2="68.8" stroke="#ff0000" stroke-width="8.0" stroke-linecap="round"/>
<line x1="689.4" y1="68.8" x2="689.4" y2="78.76" stroke="#ff0000" stroke-width="8.0" stroke-linecap="round"/>
<line x1="689.4" y1="78.76" x2="689.4" y2="88.72" stroke="#ff0000" stroke-width="8.0" stroke-linecap="round"/>
<line x1="689.4" y1="88.72" x2="689.4" y2="98.68" stroke="#ff0000" stroke-width="8.0" stroke-linecap="round"/>
<line x1="689.4" y1="98.68" x2="689.4" y2="108.64" stroke="#ff0000" stroke-width="8.0" stroke-linecap="round"/>
<line x1="689.4" y1="108.64" x2="688.8" y2="118.6" stroke="#ff0000" stroke-width="8.0" stroke-linecap="round"/>
<line x1="688.8" y1="118.6" x2="681.7" y2="138.52" stroke="#ff0000" stroke-width="5.8" stroke-linecap="round"/>
<line x1="681.7" y1="138.52" x2="678.9" y2="158.44" stroke="#ff0000" stroke-width="5.8" stroke-linecap="round"/>
<line x1="678.9" y1="158.44" x2="689.3" y2="178.36" stroke="#ff0000" stroke-width="5.8" stroke-linecap="round"/>
<line x1="689.3" y1="178.36" x2="702.7" y2="198.28" stroke="#ff0000" stroke-width="8.0" stroke-linecap="round"/>
<line x1="702.7" y1="198.28" x2="716.6" y2="218.2" stroke="#ff0000" stroke-width="8.0" stroke-linecap="round"/>
<line x1="716.6" y1="218.2" x2="747.5" y2="268" stroke="#ff0000" stroke-width="8.0" stroke-linecap="round"/>
<line x1="747.5" y1="268" x2="782.4" y2="317.8" stroke="#ff0000" stroke-width="8.0" stroke-linecap="round"/>
<line x1="782.4" y1="317.8" x2="808.5" y2="417.4" stroke="#ff0000" stroke-width="8.0" stroke-linecap="round"/>
<line x1="808.5" y1="417.4" x2="825.2" y2="517" stroke="#ff0000" stroke-width="8.0" stroke-linecap="round"/>
<line x1="825.2" y1="517" x2="836.2" y2="616.6" stroke="#ff0000" stroke-width="8.0" stroke-linecap="round"/>
<line x1="836.2" y1="616.6" x2="846.8" y2="716.2" stroke="#ff0000" stroke-width="8.0" stroke-linecap="round"/>
<line x1="846.8" y1="716.2" x2="856.1" y2="815.8" stroke="#ff0000" stroke-width="8.0" stroke-linecap="round"/>
<g fill="#ff0000"><circle cx="689.4" cy="19" r="6.1"/><circle cx="689.4" cy="22.98" r="6.1"/><circle cx="689.4" cy="26.97" r="6.1"/><circle cx="689.4" cy="30.95" r="6.1"/><circle cx="689.4" cy="34.94" r="6.1"/><circle cx="689.4" cy="38.92" r="6.1"/><circle cx="689.4" cy="42.9" r="6.1"/><circle cx="689.4" cy="48.88" r="6.1"/><circle cx="689.4" cy="58.84" r="6.1"/><circle cx="689.4" cy="68.8" r="6.1"/><circle cx="689.4" cy="78.76" r="6.1"/><circle cx="689.4" cy="88.72" r="6.1"/><circle cx="689.4" cy="98.68" r="6.1"/><circle cx="689.4" cy="108.64" r="6.1"/><circle cx="688.8" cy="118.6" r="6.1"/><circle cx="681.7" cy="138.52" r="6.1"/><circle cx="678.9" cy="158.44" r="6.1"/><circle cx="689.3" cy="178.36" r="6.1"/><circle cx="702.7" cy="198.28" r="6.1"/><circle cx="716.6" cy="218.2" r="6.1"/><circle cx="747.5" cy="268" r="6.1"/><circle cx="782.4" cy="317.8" r="6.1"/><circle cx="808.5" cy="417.4" r="6.1"/><circle cx="825.2" cy="517" r="6.1"/><circle cx="836.2" cy="616.6" r="6.1"/><circle cx="846.8" cy="716.2" r="6.1"/><circle cx="856.1" cy="815.8" r="6.1"/></g></g>
<g>
<polyline fill="none" stroke="#0000ff" stroke-width="2.7" stroke-linejoin="round" stroke-linecap="round" points="645.8,28.96 645.8,48.88 645.8,68.8 643.5,88.72 642.5,108.64 655.4,128.56 662.2,148.48 682.5,168.4 705.7,188.32 725.4,208.24 741.1,228.16 754.3,248.08 768,268 781.7,287.92 790.3,307.84 797.6,327.76 802.5,347.68 807.7,367.6 812,387.52 815.9,407.44 819.7,427.36 822.2,447.28 824.5,467.2 827.4,487.12 830.2,507.04 831.4,526.96 834.5,546.88 837.1,566.8 840,586.72 842.7,606.64 844.8,626.56 847.5,646.48 850.2,666.4 852.5,686.32 853.7,706.24 855.4,726.16 857.5,746.08 858.5,766 860.5,785.92 861.7,805.84"/>
<g fill="#0000ff"><circle cx="645.8" cy="28.96" r="6.1"/><circle cx="645.8" cy="48.88" r="6.1"/><circle cx="645.8" cy="68.8" r="6.1"/><circle cx="643.5" cy="88.72" r="6.1"/><circle cx="642.5" cy="108.64" r="6.1"/><circle cx="655.4" cy="128.56" r="6.1"/><circle cx="662.2" cy="148.48" r="6.1"/><circle cx="682.5" cy="168.4" r="6.1"/><circle cx="705.7" cy="188.32" r="6.1"/><circle cx="725.4" cy="208.24" r="6.1"/><circle cx="741.1" cy="228.16" r="6.1"/><circle cx="754.3" cy="248.08" r="6.1"/><circle cx="768" cy="268" r="6.1"/><circle cx="781.7" cy="287.92" r="6.1"/><circle cx="790.3" cy="307.84" r="6.1"/><circle cx="797.6" cy="327.76" r="6.1"/><circle cx="802.5" cy="347.68" r="6.1"/><circle cx="807.7" cy="367.6" r="6.1"/><circle cx="812" cy="387.52" r="6.1"/><circle cx="815.9" cy="407.44" r="6.1"/><circle cx="819.7" cy="427.36" r="6.1"/><circle cx="822.2" cy="447.28" r="6.1"/><circle cx="824.5" cy="467.2" r="6.1"/><circle cx="827.4" cy="487.12" r="6.1"/><circle cx="830.2" cy="507.04" r="6.1"/><circle cx="831.4" cy="526.96" r="6.1"/><circle cx="834.5" cy="546.88" r="6.1"/><circle cx="837.1" cy="566.8" r="6.1"/><circle cx="840" cy="586.72" r="6.1"/><circle cx="842.7" cy="606.64" r="6.1"/><circle cx="844.8" cy="626.56" r="6.1"/><circle cx="847.5" cy="646.48" r="6.1"/><circle cx="850.2" cy="666.4" r="6.1"/><circle cx="852.5" cy="686.32" r="6.1"/><circle cx="853.7" cy="706.24" r="6.1"/><circle cx="855.4" cy="726.16" r="6.1"/><circle cx="857.5" cy="746.08" r="6.1"/><circle cx="858.5" cy="766" r="6.1"/><circle cx="860.5" cy="785.92" r="6.1"/><circle cx="861.7" cy="805.84" r="6.1"/></g></g>
<g clip-path="url(#u1)">
<line x1="689.4" y1="19" x2="689.4" y2="22.98" stroke="#ff0000" stroke-width="8.0" stroke-linecap="round"/>
<line x1="689.4" y1="22.98" x2="689.4" y2="26.97" stroke="#ff0000" stroke-width="8.0" stroke-linecap="round"/>
<line x1="689.4" y1="26.97" x2="689.4" y2="30.95" stroke="#ff0000" stroke-width="8.0" stroke-linecap="round"/>
<line x1="689.4" y1="30.95" x2="689.4" y2="34.94" stroke="#ff0000" stroke-width="8.0" stroke-linecap="round"/>
<line x1="689.4" y1="34.94" x2="689.4" y2="38.92" stroke="#ff0000" stroke-width="8.0" stroke-linecap="round"/>
<line x1="689.4" y1="38.92" x2="689.4" y2="42.9" stroke="#ff0000" stroke-width="8.0" stroke-linecap="round"/>
<line x1="689.4" y1="42.9" x2="689.4" y2="48.88" stroke="#ff0000" stroke-width="8.0" stroke-linecap="round"/>
<line x1="689.4" y1="48.88" x2="689.4" y2="58.84" stroke="#ff0000" stroke-width="8.0" stroke-linecap="round"/>
<line x1="689.4" y1="58.84" x2="689.4" y2="68.8" stroke="#ff0000" stroke-width="8.0" stroke-linecap="round"/>
<line x1="689.4" y1="68.8" x2="689.4" y2="78.76" stroke="#ff0000" stroke-width="8.0" stroke-linecap="round"/>
<line x1="689.4" y1="78.76" x2="689.4" y2="88.72" stroke="#ff0000" stroke-width="8.0" stroke-linecap="round"/>
<line x1="689.4" y1="88.72" x2="689.4" y2="98.68" stroke="#ff0000" stroke-width="8.0" stroke-linecap="round"/>
<line x1="689.4" y1="98.68" x2="689.4" y2="108.64" stroke="#ff0000" stroke-width="8.0" stroke-linecap="round"/>
<line x1="689.4" y1="108.64" x2="688.8" y2="118.6" stroke="#ff0000" stroke-width="8.0" stroke-linecap="round"/>
<line x1="688.8" y1="118.6" x2="681.7" y2="138.52" stroke="#ff0000" stroke-width="5.8" stroke-linecap="round"/>
<line x1="681.7" y1="138.52" x2="678.9" y2="158.44" stroke="#ff0000" stroke-width="5.8" stroke-linecap="round"/>
<line x1="678.9" y1="158.44" x2="689.3" y2="178.36" stroke="#ff0000" stroke-width="5.8" stroke-linecap="round"/>
<line x1="689.3" y1="178.36" x2="702.7" y2="198.28" stroke="#ff0000" stroke-width="8.0" stroke-linecap="round"/>
<line x1="702.7" y1="198.28" x2="716.6" y2="218.2" stroke="#ff0000" stroke-width="8.0" stroke-linecap="round"/>
<line x1="716.6" y1="218.2" x2="747.5" y2="268" stroke="#ff0000" stroke-width="8.0" stroke-linecap="round"/>
<line x1="747.5" y1="268" x2="782.4" y2="317.8" stroke="#ff0000" stroke-width="8.0" stroke-linecap="round"/>
<line x1="782.4" y1="317.8" x2="808.5" y2="417.4" stroke="#ff0000" stroke-width="8.0" stroke-linecap="round"/>
<line x1="808.5" y1="417.4" x2="825.2" y2="517" stroke="#ff0000" stroke-width="8.0" stroke-linecap="round"/>
<line x1="825.2" y1="517" x2="836.2" y2="616.6" stroke="#ff0000" stroke-width="8.0" stroke-linecap="round"/>
<line x1="836.2" y1="616.6" x2="846.8" y2="716.2" stroke="#ff0000" stroke-width="8.0" stroke-linecap="round"/>
<line x1="846.8" y1="716.2" x2="856.1" y2="815.8" stroke="#ff0000" stroke-width="8.0" stroke-linecap="round"/>
<g fill="#ff0000"><circle cx="689.4" cy="19" r="6.1"/><circle cx="689.4" cy="22.98" r="6.1"/><circle cx="689.4" cy="26.97" r="6.1"/><circle cx="689.4" cy="30.95" r="6.1"/><circle cx="689.4" cy="34.94" r="6.1"/><circle cx="689.4" cy="38.92" r="6.1"/><circle cx="689.4" cy="42.9" r="6.1"/><circle cx="689.4" cy="48.88" r="6.1"/><circle cx="689.4" cy="58.84" r="6.1"/><circle cx="689.4" cy="68.8" r="6.1"/><circle cx="689.4" cy="78.76" r="6.1"/><circle cx="689.4" cy="88.72" r="6.1"/><circle cx="689.4" cy="98.68" r="6.1"/><circle cx="689.4" cy="108.64" r="6.1"/><circle cx="688.8" cy="118.6" r="6.1"/><circle cx="681.7" cy="138.52" r="6.1"/><circle cx="678.9" cy="158.44" r="6.1"/><circle cx="689.3" cy="178.36" r="6.1"/><circle cx="702.7" cy="198.28" r="6.1"/><circle cx="716.6" cy="218.2" r="6.1"/><circle cx="747.5" cy="268" r="6.1"/><circle cx="782.4" cy="317.8" r="6.1"/><circle cx="808.5" cy="417.4" r="6.1"/><circle cx="825.2" cy="517" r="6.1"/><circle cx="836.2" cy="616.6" r="6.1"/><circle cx="846.8" cy="716.2" r="6.1"/><circle cx="856.1" cy="815.8" r="6.1"/></g></g>
<g>
<polyline fill="none" stroke="#008000" stroke-width="2.7" stroke-linejoin="round" stroke-linecap="round" points="672.5,19 672.5,22.98 672.5,26.97 672.5,30.95 672.5,34.94 672.5,38.92 672.5,42.9 672.5,48.88 672.5,58.84 672.5,68.8 672.5,78.76 673.4,88.72 675.3,98.68 675.5,108.64 676.3,118.6 678.6,138.52 688.7,158.44 705.7,178.36 724.4,198.28 739.6,218.2 766.7,268 795.6,317.8 814.5,417.4 826.5,517 834.5,616.6 840.3,716.2 846.5,815.8"/>
<g fill="#008000"><circle cx="672.5" cy="19" r="6.1"/><circle cx="672.5" cy="22.98" r="6.1"/><circle cx="672.5" cy="26.97" r="6.1"/><circle cx="672.5" cy="30.95" r="6.1"/><circle cx="672.5" cy="34.94" r="6.1"/><circle cx="672.5" cy="38.92" r="6.1"/><circle cx="672.5" cy="42.9" r="6.1"/><circle cx="672.5" cy="48.88" r="6.1"/><circle cx="672.5" cy="58.84" r="6.1"/><circle cx="672.5" cy="68.8" r="6.1"/><circle cx="672.5" cy="78.76" r="6.1"/><circle cx="673.4" cy="88.72" r="6.1"/><circle cx="675.3" cy="98.68" r="6.1"/><circle cx="675.5" cy="108.64" r="6.1"/><circle cx="676.3" cy="118.6" r="6.1"/><circle cx="678.6" cy="138.52" r="6.1"/><circle cx="688.7" cy="158.44" r="6.1"/><circle cx="705.7" cy="178.36" r="6.1"/><circle cx="724.4" cy="198.28" r="6.1"/><circle cx="739.6" cy="218.2" r="6.1"/><circle cx="766.7" cy="268" r="6.1"/><circle cx="795.6" cy="317.8" r="6.1"/><circle cx="814.5" cy="417.4" r="6.1"/><circle cx="826.5" cy="517" r="6.1"/><circle cx="834.5" cy="616.6" r="6.1"/><circle cx="840.3" cy="716.2" r="6.1"/><circle cx="846.5" cy="815.8" r="6.1"/></g></g>
<g>
<polyline fill="none" stroke="#ff00ff" stroke-width="2.7" stroke-linejoin="round" stroke-linecap="round" points="640.3,19.98 640.3,22.07 640.3,24.28 640.3,26.61 640.3,29.12 640.3,31.83 640.3,34.8 640.3,38.06 640.3,41.73 640.3,45.83 640.3,50.49 640.3,55.85 640.3,62.03 640.3,69.22 640.3,77.64 640.3,87.58 640.3,99.36 638.6,113.36 645.5,130.07 654.6,150.09 670.3,174.08 693.3,202.9 725.7,237.58 772.3,279.29 818.5,329.45 850.5,389.77 862.5,462.18 862.4,548.95 862.6,652.71 868.6,776.38"/>
<g fill="#ff00ff"><circle cx="640.3" cy="19.98" r="6.1"/><circle cx="640.3" cy="22.07" r="6.1"/><circle cx="640.3" cy="24.28" r="6.1"/><circle cx="640.3" cy="26.61" r="6.1"/><circle cx="640.3" cy="29.12" r="6.1"/><circle cx="640.3" cy="31.83" r="6.1"/><circle cx="640.3" cy="34.8" r="6.1"/><circle cx="640.3" cy="38.06" r="6.1"/><circle cx="640.3" cy="41.73" r="6.1"/><circle cx="640.3" cy="45.83" r="6.1"/><circle cx="640.3" cy="50.49" r="6.1"/><circle cx="640.3" cy="55.85" r="6.1"/><circle cx="640.3" cy="62.03" r="6.1"/><circle cx="640.3" cy="69.22" r="6.1"/><circle cx="640.3" cy="77.64" r="6.1"/><circle cx="640.3" cy="87.58" r="6.1"/><circle cx="640.3" cy="99.36" r="6.1"/><circle cx="638.6" cy="113.36" r="6.1"/><circle cx="645.5" cy="130.07" r="6.1"/><circle cx="654.6" cy="150.09" r="6.1"/><circle cx="670.3" cy="174.08" r="6.1"/><circle cx="693.3" cy="202.9" r="6.1"/><circle cx="725.7" cy="237.58" r="6.1"/><circle cx="772.3" cy="279.29" r="6.1"/><circle cx="818.5" cy="329.45" r="6.1"/><circle cx="850.5" cy="389.77" r="6.1"/><circle cx="862.5" cy="462.18" r="6.1"/><circle cx="862.4" cy="548.95" r="6.1"/><circle cx="862.6" cy="652.71" r="6.1"/><circle cx="868.6" cy="776.38" r="6.1"/></g></g>
</g>
<g class="tick"><line x1="606.5" y1="814.5" x2="606.5" y2="820.7"/><line x1="711.5" y1="814.5" x2="711.5" y2="820.7"/><line x1="815.5" y1="814.5" x2="815.5" y2="820.7"/><line x1="920.5" y1="814.5" x2="920.5" y2="820.7"/><line x1="574.3" y1="19.5" x2="580.5" y2="19.5"/><line x1="574.3" y1="68.5" x2="580.5" y2="68.5"/><line x1="574.3" y1="118.5" x2="580.5" y2="118.5"/><line x1="574.3" y1="168.5" x2="580.5" y2="168.5"/><line x1="574.3" y1="218.5" x2="580.5" y2="218.5"/><line x1="574.3" y1="268.5" x2="580.5" y2="268.5"/><line x1="574.3" y1="317.5" x2="580.5" y2="317.5"/><line x1="574.3" y1="367.5" x2="580.5" y2="367.5"/><line x1="574.3" y1="417.5" x2="580.5" y2="417.5"/><line x1="574.3" y1="467.5" x2="580.5" y2="467.5"/><line x1="574.3" y1="517.5" x2="580.5" y2="517.5"/><line x1="574.3" y1="566.5" x2="580.5" y2="566.5"/><line x1="574.3" y1="616.5" x2="580.5" y2="616.5"/><line x1="574.3" y1="666.5" x2="580.5" y2="666.5"/><line x1="574.3" y1="716.5" x2="580.5" y2="716.5"/><line x1="574.3" y1="766.5" x2="580.5" y2="766.5"/></g>
<rect class="spine" x="580.5" y="19.5" width="402" height="795"/>
<g><text class="tl2" text-anchor="middle" x="605.9" y="842.1">33.0</text><text class="tl2" text-anchor="middle" x="710.9" y="842.1">33.5</text><text class="tl2" text-anchor="middle" x="814.9" y="842.1">34.0</text><text class="tl2" text-anchor="middle" x="919.9" y="842.1">34.5</text></g>
<g class="grid"><line x1="1077.5" y1="19.5" x2="1077.5" y2="814.5"/><line x1="1157.5" y1="19.5" x2="1157.5" y2="814.5"/><line x1="1238.5" y1="19.5" x2="1238.5" y2="814.5"/><line x1="1318.5" y1="19.5" x2="1318.5" y2="814.5"/><line x1="1399.5" y1="19.5" x2="1399.5" y2="814.5"/><line x1="1072.5" y1="68.5" x2="1474.5" y2="68.5"/><line x1="1072.5" y1="118.5" x2="1474.5" y2="118.5"/><line x1="1072.5" y1="168.5" x2="1474.5" y2="168.5"/><line x1="1072.5" y1="218.5" x2="1474.5" y2="218.5"/><line x1="1072.5" y1="268.5" x2="1474.5" y2="268.5"/><line x1="1072.5" y1="317.5" x2="1474.5" y2="317.5"/><line x1="1072.5" y1="367.5" x2="1474.5" y2="367.5"/><line x1="1072.5" y1="417.5" x2="1474.5" y2="417.5"/><line x1="1072.5" y1="467.5" x2="1474.5" y2="467.5"/><line x1="1072.5" y1="517.5" x2="1474.5" y2="517.5"/><line x1="1072.5" y1="566.5" x2="1474.5" y2="566.5"/><line x1="1072.5" y1="616.5" x2="1474.5" y2="616.5"/><line x1="1072.5" y1="666.5" x2="1474.5" y2="666.5"/><line x1="1072.5" y1="716.5" x2="1474.5" y2="716.5"/><line x1="1072.5" y1="766.5" x2="1474.5" y2="766.5"/></g>
<g clip-path="url(#c2)">
<g fill="#00ffff"><circle cx="1181.52" cy="255.72" r="3.45"/><circle cx="1184.7" cy="265.2" r="3.45"/><circle cx="1185.91" cy="276.54" r="3.45"/><circle cx="1188.52" cy="283.83" r="3.45"/><circle cx="1190.13" cy="290.33" r="3.45"/><circle cx="1193.15" cy="297.65" r="3.45"/><circle cx="1194.85" cy="306.6" r="3.45"/><circle cx="1195.52" cy="314.53" r="3.45"/><circle cx="1197.64" cy="326.32" r="3.45"/><circle cx="1200" cy="341.19" r="3.45"/><circle cx="1201.85" cy="348.7" r="3.45"/><circle cx="1204.65" cy="359.63" r="3.45"/><circle cx="1206.34" cy="374.7" r="3.45"/><circle cx="1207.61" cy="383.45" r="3.45"/><circle cx="1208.78" cy="388.53" r="3.45"/><circle cx="1209.66" cy="396.44" r="3.45"/><circle cx="1211.78" cy="408.78" r="3.45"/><circle cx="1214.72" cy="422.43" r="3.45"/><circle cx="1215.88" cy="429.24" r="3.45"/><circle cx="1217.78" cy="442.92" r="3.45"/><circle cx="1218.4" cy="451.92" r="3.45"/><circle cx="1220.75" cy="457.56" r="3.45"/><circle cx="1222.48" cy="470.22" r="3.45"/><circle cx="1223.36" cy="481.96" r="3.45"/><circle cx="1225.53" cy="495.71" r="3.45"/><circle cx="1226.73" cy="501.91" r="3.45"/><circle cx="1228.13" cy="515.33" r="3.45"/><circle cx="1229.82" cy="528.25" r="3.45"/><circle cx="1231.09" cy="537.67" r="3.45"/><circle cx="1232.34" cy="545.26" r="3.45"/><circle cx="1233.4" cy="553.04" r="3.45"/><circle cx="1235.42" cy="564.3" r="3.45"/><circle cx="1236.94" cy="574.47" r="3.45"/><circle cx="1238.5" cy="586.58" r="3.45"/><circle cx="1238.74" cy="593.23" r="3.45"/><circle cx="1239.53" cy="600.31" r="3.45"/><circle cx="1240.98" cy="615.37" r="3.45"/><circle cx="1242" cy="624.81" r="3.45"/><circle cx="1243.12" cy="631.39" r="3.45"/><circle cx="1245.28" cy="644.93" r="3.45"/><circle cx="1246.77" cy="653.45" r="3.45"/><circle cx="1248.66" cy="661.68" r="3.45"/><circle cx="1248.85" cy="671.34" r="3.45"/><circle cx="1250.97" cy="682.21" r="3.45"/><circle cx="1251.17" cy="693.62" r="3.45"/><circle cx="1252.76" cy="697.05" r="3.45"/><circle cx="1253.94" cy="708" r="3.45"/><circle cx="1255.34" cy="718.12" r="3.45"/><circle cx="1256.98" cy="733.24" r="3.45"/><circle cx="1257.85" cy="740.82" r="3.45"/><circle cx="1258.47" cy="748.85" r="3.45"/><circle cx="1259.67" cy="758.02" r="3.45"/><circle cx="1260.32" cy="763.68" r="3.45"/><circle cx="1262.35" cy="773.64" r="3.45"/><circle cx="1263.2" cy="784.51" r="3.45"/><circle cx="1264.8" cy="796.71" r="3.45"/><circle cx="1265.39" cy="807.37" r="3.45"/><circle cx="1102.39" cy="53.5" r="3.45"/><circle cx="1103.36" cy="64.1" r="3.45"/><circle cx="1104.32" cy="71.81" r="3.45"/><circle cx="1108.66" cy="96.86" r="3.45"/><circle cx="1108.93" cy="97.14" r="3.45"/><circle cx="1110.44" cy="104.22" r="3.45"/><circle cx="1139.26" cy="130.71" r="3.45"/><circle cx="1144.82" cy="144.16" r="3.45"/><circle cx="1154.43" cy="163.88" r="3.45"/><circle cx="1155.95" cy="167.92" r="3.45"/><circle cx="1124.6" cy="124.44" r="3.45"/><circle cx="1165.83" cy="188.2" r="3.45"/><circle cx="1170.89" cy="200.33" r="3.45"/><circle cx="1173.92" cy="211.46" r="3.45"/><circle cx="1176.96" cy="222.58" r="3.45"/><circle cx="1179.99" cy="233.7" r="3.45"/><circle cx="1180.5" cy="240.78" r="3.45"/><circle cx="1183.02" cy="255.95" r="3.45"/><circle cx="1185.55" cy="262.01" r="3.45"/><circle cx="1184.54" cy="248.87" r="3.45"/><circle cx="1184.82" cy="258.02" r="3.45"/><circle cx="1185.33" cy="262.07" r="3.45"/><circle cx="1192.91" cy="294.42" r="3.45"/><circle cx="1194.93" cy="300.49" r="3.45"/><circle cx="1201.51" cy="337.9" r="3.45"/></g>
<g>
<line x1="1109.8" y1="19" x2="1110.09" y2="22.98" stroke="#ff0000" stroke-width="7.8" stroke-linecap="round"/>
<line x1="1110.09" y1="22.98" x2="1110.38" y2="26.97" stroke="#ff0000" stroke-width="7.8" stroke-linecap="round"/>
<line x1="1110.38" y1="26.97" x2="1110.66" y2="30.95" stroke="#ff0000" stroke-width="7.8" stroke-linecap="round"/>
<line x1="1110.66" y1="30.95" x2="1110.95" y2="34.94" stroke="#ff0000" stroke-width="7.8" stroke-linecap="round"/>
<line x1="1110.95" y1="34.94" x2="1111.24" y2="38.92" stroke="#ff0000" stroke-width="7.8" stroke-linecap="round"/>
<line x1="1111.24" y1="38.92" x2="1111.53" y2="42.9" stroke="#ff0000" stroke-width="7.8" stroke-linecap="round"/>
<line x1="1111.53" y1="42.9" x2="1111.96" y2="48.88" stroke="#ff0000" stroke-width="7.8" stroke-linecap="round"/>
<line x1="1111.96" y1="48.88" x2="1112.68" y2="58.84" stroke="#ff0000" stroke-width="7.8" stroke-linecap="round"/>
<line x1="1112.68" y1="58.84" x2="1113.4" y2="68.8" stroke="#ff0000" stroke-width="7.8" stroke-linecap="round"/>
<line x1="1113.4" y1="68.8" x2="1114.6" y2="78.76" stroke="#ff0000" stroke-width="7.8" stroke-linecap="round"/>
<line x1="1114.6" y1="78.76" x2="1115.3" y2="88.72" stroke="#ff0000" stroke-width="7.8" stroke-linecap="round"/>
<line x1="1115.3" y1="88.72" x2="1116.4" y2="98.68" stroke="#ff0000" stroke-width="7.8" stroke-linecap="round"/>
<line x1="1116.4" y1="98.68" x2="1117.6" y2="108.64" stroke="#ff0000" stroke-width="7.8" stroke-linecap="round"/>
<line x1="1117.6" y1="108.64" x2="1119.3" y2="118.6" stroke="#ff0000" stroke-width="7.8" stroke-linecap="round"/>
<line x1="1119.3" y1="118.6" x2="1125.4" y2="138.52" stroke="#ff0000" stroke-width="5.8" stroke-linecap="round"/>
<line x1="1125.4" y1="138.52" x2="1136.7" y2="158.44" stroke="#ff0000" stroke-width="5.8" stroke-linecap="round"/>
<line x1="1136.7" y1="158.44" x2="1145.7" y2="178.36" stroke="#ff0000" stroke-width="5.8" stroke-linecap="round"/>
<line x1="1145.7" y1="178.36" x2="1154.7" y2="198.28" stroke="#ff0000" stroke-width="7.8" stroke-linecap="round"/>
<line x1="1154.7" y1="198.28" x2="1161.8" y2="218.2" stroke="#ff0000" stroke-width="7.8" stroke-linecap="round"/>
<line x1="1161.8" y1="218.2" x2="1175.7" y2="268" stroke="#ff0000" stroke-width="7.8" stroke-linecap="round"/>
<line x1="1175.7" y1="268" x2="1189.9" y2="317.8" stroke="#ff0000" stroke-width="7.8" stroke-linecap="round"/>
<line x1="1189.9" y1="317.8" x2="1207.9" y2="417.4" stroke="#ff0000" stroke-width="7.8" stroke-linecap="round"/>
<line x1="1207.9" y1="417.4" x2="1223.7" y2="517" stroke="#ff0000" stroke-width="7.8" stroke-linecap="round"/>
<line x1="1223.7" y1="517" x2="1239.1" y2="616.6" stroke="#ff0000" stroke-width="7.8" stroke-linecap="round"/>
<line x1="1239.1" y1="616.6" x2="1250.8" y2="716.2" stroke="#ff0000" stroke-width="7.8" stroke-linecap="round"/>
<line x1="1250.8" y1="716.2" x2="1264.8" y2="815.8" stroke="#ff0000" stroke-width="7.8" stroke-linecap="round"/>
<g fill="#ff0000"><circle cx="1109.8" cy="19" r="6.1"/><circle cx="1110.09" cy="22.98" r="6.1"/><circle cx="1110.38" cy="26.97" r="6.1"/><circle cx="1110.66" cy="30.95" r="6.1"/><circle cx="1110.95" cy="34.94" r="6.1"/><circle cx="1111.24" cy="38.92" r="6.1"/><circle cx="1111.53" cy="42.9" r="6.1"/><circle cx="1111.96" cy="48.88" r="6.1"/><circle cx="1112.68" cy="58.84" r="6.1"/><circle cx="1113.4" cy="68.8" r="6.1"/><circle cx="1114.6" cy="78.76" r="6.1"/><circle cx="1115.3" cy="88.72" r="6.1"/><circle cx="1116.4" cy="98.68" r="6.1"/><circle cx="1117.6" cy="108.64" r="6.1"/><circle cx="1119.3" cy="118.6" r="6.1"/><circle cx="1125.4" cy="138.52" r="6.1"/><circle cx="1136.7" cy="158.44" r="6.1"/><circle cx="1145.7" cy="178.36" r="6.1"/><circle cx="1154.7" cy="198.28" r="6.1"/><circle cx="1161.8" cy="218.2" r="6.1"/><circle cx="1175.7" cy="268" r="6.1"/><circle cx="1189.9" cy="317.8" r="6.1"/><circle cx="1207.9" cy="417.4" r="6.1"/><circle cx="1223.7" cy="517" r="6.1"/><circle cx="1239.1" cy="616.6" r="6.1"/><circle cx="1250.8" cy="716.2" r="6.1"/><circle cx="1264.8" cy="815.8" r="6.1"/></g></g>
<g>
<polyline fill="none" stroke="#0000ff" stroke-width="2.7" stroke-linejoin="round" stroke-linecap="round" points="1105.2,28.96 1107,48.88 1108.8,68.8 1110.6,88.72 1121.5,108.64 1130.7,128.56 1141.8,148.48 1151.4,168.4 1160.3,188.32 1168.7,208.24 1173.7,228.16 1178.8,248.08 1183.6,268 1188.4,287.92 1193.4,307.84 1197,327.76 1200.6,347.68 1203.8,367.6 1207.1,387.52 1210.7,407.44 1214.6,427.36 1217.5,447.28 1220.6,467.2 1223.5,487.12 1226.7,507.04 1228.6,526.96 1231.9,546.88 1234.6,566.8 1236.7,586.72 1239.8,606.64 1241.8,626.56 1244.8,646.48 1248.1,666.4 1249.8,686.32 1253,706.24 1254.9,726.16 1257.8,746.08 1259.8,766 1262.8,785.92 1264.7,805.84"/>
<g fill="#0000ff"><circle cx="1105.2" cy="28.96" r="6.1"/><circle cx="1107" cy="48.88" r="6.1"/><circle cx="1108.8" cy="68.8" r="6.1"/><circle cx="1110.6" cy="88.72" r="6.1"/><circle cx="1121.5" cy="108.64" r="6.1"/><circle cx="1130.7" cy="128.56" r="6.1"/><circle cx="1141.8" cy="148.48" r="6.1"/><circle cx="1151.4" cy="168.4" r="6.1"/><circle cx="1160.3" cy="188.32" r="6.1"/><circle cx="1168.7" cy="208.24" r="6.1"/><circle cx="1173.7" cy="228.16" r="6.1"/><circle cx="1178.8" cy="248.08" r="6.1"/><circle cx="1183.6" cy="268" r="6.1"/><circle cx="1188.4" cy="287.92" r="6.1"/><circle cx="1193.4" cy="307.84" r="6.1"/><circle cx="1197" cy="327.76" r="6.1"/><circle cx="1200.6" cy="347.68" r="6.1"/><circle cx="1203.8" cy="367.6" r="6.1"/><circle cx="1207.1" cy="387.52" r="6.1"/><circle cx="1210.7" cy="407.44" r="6.1"/><circle cx="1214.6" cy="427.36" r="6.1"/><circle cx="1217.5" cy="447.28" r="6.1"/><circle cx="1220.6" cy="467.2" r="6.1"/><circle cx="1223.5" cy="487.12" r="6.1"/><circle cx="1226.7" cy="507.04" r="6.1"/><circle cx="1228.6" cy="526.96" r="6.1"/><circle cx="1231.9" cy="546.88" r="6.1"/><circle cx="1234.6" cy="566.8" r="6.1"/><circle cx="1236.7" cy="586.72" r="6.1"/><circle cx="1239.8" cy="606.64" r="6.1"/><circle cx="1241.8" cy="626.56" r="6.1"/><circle cx="1244.8" cy="646.48" r="6.1"/><circle cx="1248.1" cy="666.4" r="6.1"/><circle cx="1249.8" cy="686.32" r="6.1"/><circle cx="1253" cy="706.24" r="6.1"/><circle cx="1254.9" cy="726.16" r="6.1"/><circle cx="1257.8" cy="746.08" r="6.1"/><circle cx="1259.8" cy="766" r="6.1"/><circle cx="1262.8" cy="785.92" r="6.1"/><circle cx="1264.7" cy="805.84" r="6.1"/></g></g>
<g clip-path="url(#u2)">
<line x1="1109.8" y1="19" x2="1110.09" y2="22.98" stroke="#ff0000" stroke-width="7.8" stroke-linecap="round"/>
<line x1="1110.09" y1="22.98" x2="1110.38" y2="26.97" stroke="#ff0000" stroke-width="7.8" stroke-linecap="round"/>
<line x1="1110.38" y1="26.97" x2="1110.66" y2="30.95" stroke="#ff0000" stroke-width="7.8" stroke-linecap="round"/>
<line x1="1110.66" y1="30.95" x2="1110.95" y2="34.94" stroke="#ff0000" stroke-width="7.8" stroke-linecap="round"/>
<line x1="1110.95" y1="34.94" x2="1111.24" y2="38.92" stroke="#ff0000" stroke-width="7.8" stroke-linecap="round"/>
<line x1="1111.24" y1="38.92" x2="1111.53" y2="42.9" stroke="#ff0000" stroke-width="7.8" stroke-linecap="round"/>
<line x1="1111.53" y1="42.9" x2="1111.96" y2="48.88" stroke="#ff0000" stroke-width="7.8" stroke-linecap="round"/>
<line x1="1111.96" y1="48.88" x2="1112.68" y2="58.84" stroke="#ff0000" stroke-width="7.8" stroke-linecap="round"/>
<line x1="1112.68" y1="58.84" x2="1113.4" y2="68.8" stroke="#ff0000" stroke-width="7.8" stroke-linecap="round"/>
<line x1="1113.4" y1="68.8" x2="1114.6" y2="78.76" stroke="#ff0000" stroke-width="7.8" stroke-linecap="round"/>
<line x1="1114.6" y1="78.76" x2="1115.3" y2="88.72" stroke="#ff0000" stroke-width="7.8" stroke-linecap="round"/>
<line x1="1115.3" y1="88.72" x2="1116.4" y2="98.68" stroke="#ff0000" stroke-width="7.8" stroke-linecap="round"/>
<line x1="1116.4" y1="98.68" x2="1117.6" y2="108.64" stroke="#ff0000" stroke-width="7.8" stroke-linecap="round"/>
<line x1="1117.6" y1="108.64" x2="1119.3" y2="118.6" stroke="#ff0000" stroke-width="7.8" stroke-linecap="round"/>
<line x1="1119.3" y1="118.6" x2="1125.4" y2="138.52" stroke="#ff0000" stroke-width="5.8" stroke-linecap="round"/>
<line x1="1125.4" y1="138.52" x2="1136.7" y2="158.44" stroke="#ff0000" stroke-width="5.8" stroke-linecap="round"/>
<line x1="1136.7" y1="158.44" x2="1145.7" y2="178.36" stroke="#ff0000" stroke-width="5.8" stroke-linecap="round"/>
<line x1="1145.7" y1="178.36" x2="1154.7" y2="198.28" stroke="#ff0000" stroke-width="7.8" stroke-linecap="round"/>
<line x1="1154.7" y1="198.28" x2="1161.8" y2="218.2" stroke="#ff0000" stroke-width="7.8" stroke-linecap="round"/>
<line x1="1161.8" y1="218.2" x2="1175.7" y2="268" stroke="#ff0000" stroke-width="7.8" stroke-linecap="round"/>
<line x1="1175.7" y1="268" x2="1189.9" y2="317.8" stroke="#ff0000" stroke-width="7.8" stroke-linecap="round"/>
<line x1="1189.9" y1="317.8" x2="1207.9" y2="417.4" stroke="#ff0000" stroke-width="7.8" stroke-linecap="round"/>
<line x1="1207.9" y1="417.4" x2="1223.7" y2="517" stroke="#ff0000" stroke-width="7.8" stroke-linecap="round"/>
<line x1="1223.7" y1="517" x2="1239.1" y2="616.6" stroke="#ff0000" stroke-width="7.8" stroke-linecap="round"/>
<line x1="1239.1" y1="616.6" x2="1250.8" y2="716.2" stroke="#ff0000" stroke-width="7.8" stroke-linecap="round"/>
<line x1="1250.8" y1="716.2" x2="1264.8" y2="815.8" stroke="#ff0000" stroke-width="7.8" stroke-linecap="round"/>
<g fill="#ff0000"><circle cx="1109.8" cy="19" r="6.1"/><circle cx="1110.09" cy="22.98" r="6.1"/><circle cx="1110.38" cy="26.97" r="6.1"/><circle cx="1110.66" cy="30.95" r="6.1"/><circle cx="1110.95" cy="34.94" r="6.1"/><circle cx="1111.24" cy="38.92" r="6.1"/><circle cx="1111.53" cy="42.9" r="6.1"/><circle cx="1111.96" cy="48.88" r="6.1"/><circle cx="1112.68" cy="58.84" r="6.1"/><circle cx="1113.4" cy="68.8" r="6.1"/><circle cx="1114.6" cy="78.76" r="6.1"/><circle cx="1115.3" cy="88.72" r="6.1"/><circle cx="1116.4" cy="98.68" r="6.1"/><circle cx="1117.6" cy="108.64" r="6.1"/><circle cx="1119.3" cy="118.6" r="6.1"/><circle cx="1125.4" cy="138.52" r="6.1"/><circle cx="1136.7" cy="158.44" r="6.1"/><circle cx="1145.7" cy="178.36" r="6.1"/><circle cx="1154.7" cy="198.28" r="6.1"/><circle cx="1161.8" cy="218.2" r="6.1"/><circle cx="1175.7" cy="268" r="6.1"/><circle cx="1189.9" cy="317.8" r="6.1"/><circle cx="1207.9" cy="417.4" r="6.1"/><circle cx="1223.7" cy="517" r="6.1"/><circle cx="1239.1" cy="616.6" r="6.1"/><circle cx="1250.8" cy="716.2" r="6.1"/><circle cx="1264.8" cy="815.8" r="6.1"/></g></g>
<g>
<polyline fill="none" stroke="#008000" stroke-width="2.7" stroke-linejoin="round" stroke-linecap="round" points="1104.4,19 1104.75,22.98 1105.1,26.97 1105.46,30.95 1105.81,34.94 1106.16,38.92 1106.51,42.9 1107.04,48.88 1107.92,58.84 1108.8,68.8 1109.6,78.76 1110.5,88.72 1115.7,98.68 1122.4,108.64 1129.7,118.6 1139.6,138.52 1148.4,158.44 1158,178.36 1164.8,198.28 1170.9,218.2 1181.6,268 1195.4,317.8 1210.2,417.4 1225.4,517 1238.6,616.6 1250.8,716.2 1263.3,815.8"/>
<g fill="#008000"><circle cx="1104.4" cy="19" r="6.1"/><circle cx="1104.75" cy="22.98" r="6.1"/><circle cx="1105.1" cy="26.97" r="6.1"/><circle cx="1105.46" cy="30.95" r="6.1"/><circle cx="1105.81" cy="34.94" r="6.1"/><circle cx="1106.16" cy="38.92" r="6.1"/><circle cx="1106.51" cy="42.9" r="6.1"/><circle cx="1107.04" cy="48.88" r="6.1"/><circle cx="1107.92" cy="58.84" r="6.1"/><circle cx="1108.8" cy="68.8" r="6.1"/><circle cx="1109.6" cy="78.76" r="6.1"/><circle cx="1110.5" cy="88.72" r="6.1"/><circle cx="1115.7" cy="98.68" r="6.1"/><circle cx="1122.4" cy="108.64" r="6.1"/><circle cx="1129.7" cy="118.6" r="6.1"/><circle cx="1139.6" cy="138.52" r="6.1"/><circle cx="1148.4" cy="158.44" r="6.1"/><circle cx="1158" cy="178.36" r="6.1"/><circle cx="1164.8" cy="198.28" r="6.1"/><circle cx="1170.9" cy="218.2" r="6.1"/><circle cx="1181.6" cy="268" r="6.1"/><circle cx="1195.4" cy="317.8" r="6.1"/><circle cx="1210.2" cy="417.4" r="6.1"/><circle cx="1225.4" cy="517" r="6.1"/><circle cx="1238.6" cy="616.6" r="6.1"/><circle cx="1250.8" cy="716.2" r="6.1"/><circle cx="1263.3" cy="815.8" r="6.1"/></g></g>
<g>
<polyline fill="none" stroke="#ff00ff" stroke-width="2.7" stroke-linejoin="round" stroke-linecap="round" points="1092.1,19.98 1092.32,22.07 1092.55,24.28 1092.79,26.61 1093.05,29.12 1093.33,31.83 1093.63,34.8 1093.97,38.06 1094.35,41.73 1094.78,45.83 1095.26,50.49 1095.82,55.85 1096.46,62.03 1097.2,69.22 1097.8,77.64 1098.5,87.58 1099.3,99.36 1108.4,113.36 1122.4,130.07 1135.5,150.09 1148.6,174.08 1161.6,202.9 1173.4,237.58 1187.6,279.29 1199.5,329.45 1211.7,389.77 1221.6,462.18 1232.6,548.95 1245.4,652.71 1261.4,776.38"/>
<g fill="#ff00ff"><circle cx="1092.1" cy="19.98" r="6.1"/><circle cx="1092.32" cy="22.07" r="6.1"/><circle cx="1092.55" cy="24.28" r="6.1"/><circle cx="1092.79" cy="26.61" r="6.1"/><circle cx="1093.05" cy="29.12" r="6.1"/><circle cx="1093.33" cy="31.83" r="6.1"/><circle cx="1093.63" cy="34.8" r="6.1"/><circle cx="1093.97" cy="38.06" r="6.1"/><circle cx="1094.35" cy="41.73" r="6.1"/><circle cx="1094.78" cy="45.83" r="6.1"/><circle cx="1095.26" cy="50.49" r="6.1"/><circle cx="1095.82" cy="55.85" r="6.1"/><circle cx="1096.46" cy="62.03" r="6.1"/><circle cx="1097.2" cy="69.22" r="6.1"/><circle cx="1097.8" cy="77.64" r="6.1"/><circle cx="1098.5" cy="87.58" r="6.1"/><circle cx="1099.3" cy="99.36" r="6.1"/><circle cx="1108.4" cy="113.36" r="6.1"/><circle cx="1122.4" cy="130.07" r="6.1"/><circle cx="1135.5" cy="150.09" r="6.1"/><circle cx="1148.6" cy="174.08" r="6.1"/><circle cx="1161.6" cy="202.9" r="6.1"/><circle cx="1173.4" cy="237.58" r="6.1"/><circle cx="1187.6" cy="279.29" r="6.1"/><circle cx="1199.5" cy="329.45" r="6.1"/><circle cx="1211.7" cy="389.77" r="6.1"/><circle cx="1221.6" cy="462.18" r="6.1"/><circle cx="1232.6" cy="548.95" r="6.1"/><circle cx="1245.4" cy="652.71" r="6.1"/><circle cx="1261.4" cy="776.38" r="6.1"/></g></g>
</g>
<g class="tick"><line x1="1077.5" y1="814.5" x2="1077.5" y2="820.7"/><line x1="1157.5" y1="814.5" x2="1157.5" y2="820.7"/><line x1="1238.5" y1="814.5" x2="1238.5" y2="820.7"/><line x1="1318.5" y1="814.5" x2="1318.5" y2="820.7"/><line x1="1399.5" y1="814.5" x2="1399.5" y2="820.7"/><line x1="1066.3" y1="19.5" x2="1072.5" y2="19.5"/><line x1="1066.3" y1="68.5" x2="1072.5" y2="68.5"/><line x1="1066.3" y1="118.5" x2="1072.5" y2="118.5"/><line x1="1066.3" y1="168.5" x2="1072.5" y2="168.5"/><line x1="1066.3" y1="218.5" x2="1072.5" y2="218.5"/><line x1="1066.3" y1="268.5" x2="1072.5" y2="268.5"/><line x1="1066.3" y1="317.5" x2="1072.5" y2="317.5"/><line x1="1066.3" y1="367.5" x2="1072.5" y2="367.5"/><line x1="1066.3" y1="417.5" x2="1072.5" y2="417.5"/><line x1="1066.3" y1="467.5" x2="1072.5" y2="467.5"/><line x1="1066.3" y1="517.5" x2="1072.5" y2="517.5"/><line x1="1066.3" y1="566.5" x2="1072.5" y2="566.5"/><line x1="1066.3" y1="616.5" x2="1072.5" y2="616.5"/><line x1="1066.3" y1="666.5" x2="1072.5" y2="666.5"/><line x1="1066.3" y1="716.5" x2="1072.5" y2="716.5"/><line x1="1066.3" y1="766.5" x2="1072.5" y2="766.5"/></g>
<rect class="spine" x="1072.5" y="19.5" width="402" height="795"/>
<g><text class="tr" text-anchor="middle" transform="translate(1079.1,855.7) rotate(-45)" x="0" y="0">1024</text><text class="tr" text-anchor="middle" transform="translate(1159.1,855.7) rotate(-45)" x="0" y="0">1026</text><text class="tr" text-anchor="middle" transform="translate(1240.1,855.7) rotate(-45)" x="0" y="0">1028</text><text class="tr" text-anchor="middle" transform="translate(1320.1,855.7) rotate(-45)" x="0" y="0">1030</text><text class="tr" text-anchor="middle" transform="translate(1401.1,855.7) rotate(-45)" x="0" y="0">1032</text></g>
<text class="al" text-anchor="middle" transform="translate(29.8,418.4) rotate(-90)" textLength="130" lengthAdjust="spacing">Depth (m)</text>
<text class="al" x="179.2" y="872.0" style="letter-spacing:-0.32px">Temperature (<tspan class="mi" dy="-8.6" font-size="16.3px">o</tspan><tspan class="mi" dy="8.6" dx="1.2">C</tspan><tspan dx="0.7">)</tspan></text>
<text class="al" x="733.2" y="870.0" textLength="95.2" lengthAdjust="spacing">Salinity</text>
<text class="al" x="1164.8" y="896.2" textLength="216" lengthAdjust="spacing">Density (kg m-3)</text>
<text class="ft" x="424.4" y="918.3" textLength="728.6" lengthAdjust="spacing" style="white-space:pre">Ocean Heat Content (kJ/cm^2) - Glider: N/A,  RTOFS: N/A,  ESPC: N/A,  CMEMS: N/A,</text>
<text class="info" x="1523.9" y="37.2">Comparison Date: 2024-12-26</text>
<text class="info" x="1523.9" y="90.1">Glider: sp011</text>
<text class="info" x="1523.9" y="116.8">Profiles: 7</text>
<text class="info" x="1523.9" y="143.4">First: 2024-12-26 01:55:15</text>
<text class="info" x="1523.9" y="170">Last: 2024-12-26 18:25:00</text>
<text class="info" x="1523.9" y="196.6">Method: Nearest-Neighbor</text>
<g clip-path="url(#mc)">
<rect x="1602.5" y="261.5" width="326" height="310.8" fill="#6495ed"/>
<rect x="1602.5" y="261.5" width="100" height="8.4" fill="#97b6e1"/>
<g fill="none" stroke-linejoin="round" stroke-linecap="round">
<path d="M1692.4 261.5 L1695.6 263.7 L1698.7 266.9 L1700.6 270.6 L1701 274.2 L1702.8 276.9 L1704.7 281.5 L1706.5 285.1 L1708.3 288.8 L1710.1 293.3 L1712.4 297.9 L1713.4 300.5 L1714.1 303.6 L1716.9 307.3 L1717.3 312.7 L1720.9 315 L1725.5 318.2 L1730.1 322.3 L1734.1 326.4 L1736.4 330" stroke="#97b6e1" stroke-width="9"/>
<path d="M1736.4 330 L1736.9 334.1 L1734.6 336.4 L1731 337.3 L1726.4 336.9 L1723.2 335 L1725.5 338.7 L1729.1 341.9 L1732.8 345.5 L1737.3 348.2 L1741.9 350.5 L1746 349.1 L1747.3 351.9 L1751.9 355.5 L1756.4 359.2 L1758.7 363.7 L1759.2 367.5 L1757.4 371.5 L1756.4 375 L1760 378.7 L1765.5 381.4 L1770.9 384.6 L1775.5 388.2 L1779.1 391.8" stroke="#97b6e1" stroke-width="15"/>
<path d="M1785 386.8 L1784.1 383.2 L1780 382.3 L1777.5 381 L1775.5 378.5 L1773.7 375 L1772.8 372 L1771 369.2 L1768.7 364.6 L1766.4 360.1 L1764.6 355.5 L1761.9 351.9 L1759.2 347.3 L1756.4 342.8 L1752.8 339.1 L1750.5 335.5" stroke="#97b6e1" stroke-width="5"/>
<path d="M1776 340.9 L1777.4 344.6 L1781.9 346.4 L1783.7 350.1 L1788.3 351.9 L1791.9 354.6 L1792.4 358.2 L1788.7 360.1 L1788.3 363.7 L1791.9 365.5 L1796.5 367.5 L1801 370.5 L1804.6 375 L1810.1 379.6 L1814.6 383.2 L1817.3 387.8 L1821.9 393.2 L1826.4 397.8 L1830.1 402.3 L1831.4 406.9 L1832.8 411.4 L1835.5 415.1 L1835.5 418.7 L1834.7 420.5 L1835.4 423.5 L1836.1 426 L1830.4 427.8 L1831.1 431.3" stroke="#97b6e1" stroke-width="16"/>
<path d="M1831.1 431.3 L1834 435.6 L1838.2 441.2 L1842.5 443.4 L1846.7 444.4 L1851 447.2 L1855.2 453.3 L1860.2 455 L1865.1 456.8 L1870.8 457.9 L1872.9 457.5 L1876.4 461.1 L1882.8 465.3 L1889.2 467.4 L1895.5 469.9 L1899.1 472.4 L1904 473.4 L1908.3 473.8 L1910.4 476.3 L1916.1 478 L1919.6 480.9 L1924.6 481.2 L1928.5 482.3" stroke="#97b6e1" stroke-width="5"/>
<path d="M1736.4 330 L1736.9 334.1 L1734.6 336.4 L1731 337.3 L1726.4 336.9 L1723.2 335 L1725.5 338.7 L1729.1 341.9 L1732.8 345.5 L1737.3 348.2 L1741.9 350.5 L1746 349.1 L1747.3 351.9 L1751.9 355.5 L1756.4 359.2 L1758.7 363.7 L1759.2 367.5 L1757.4 371.5 L1756.4 375 L1760 378.7 L1765.5 381.4 L1770.9 384.6 L1775.5 388.2" stroke="#b0c4de" stroke-width="7"/>
<path d="M1781.9 346.4 L1783.7 350.1 L1788.3 351.9 L1791.9 354.6 L1792.4 358.2 L1788.7 360.1 L1788.3 363.7 L1791.9 365.5 L1796.5 367.5 L1801 370.5 L1804.6 375 L1810.1 379.6 L1814.6 383.2 L1817.3 387.8 L1821.9 393.2 L1826.4 397.8 L1830.1 402.3 L1831.4 406.9 L1832.8 411.4 L1835.5 415.1 L1835.5 418.7 L1834.7 420.5 L1835.4 423.5 L1836.1 426" stroke="#b0c4de" stroke-width="8"/>
</g>
<path d="M1668.3 269.8 L1701.5 269.8 L1701.7 277.4 L1694.7 276.2 L1685.6 274.4 L1676.5 273.3 L1671.9 271.7Z" fill="#97b6e1"/>
<g fill="#9bb8e3"><rect x="1674.8" y="274.5" width="1.0" height="0.9" transform="rotate(0 1674.8 274.5)"/><rect x="1675.2" y="273.8" width="1.4" height="0.9" transform="rotate(0 1675.2 273.8)"/><rect x="1675.8" y="273.9" width="1.0" height="1.6" transform="rotate(60 1675.8 273.9)"/><rect x="1672.4" y="277.9" width="1.4" height="1.6" transform="rotate(0 1672.4 277.9)"/><rect x="1677.2" y="276.5" width="1.4" height="0.9" transform="rotate(30 1677.2 276.5)"/><rect x="1674.5" y="274.5" width="1.0" height="1.6" transform="rotate(45 1674.5 274.5)"/><rect x="1677" y="278.9" width="1.0" height="1.6" transform="rotate(30 1677 278.9)"/><rect x="1675.3" y="277.8" width="1.0" height="1.6" transform="rotate(0 1675.3 277.8)"/><rect x="1677.5" y="277.4" width="2.4" height="1.2" transform="rotate(60 1677.5 277.4)"/><rect x="1677.2" y="277" width="1.8" height="0.9" transform="rotate(30 1677.2 277)"/><rect x="1678.3" y="275.3" width="1.8" height="1.6" transform="rotate(60 1678.3 275.3)"/><rect x="1679.9" y="279.3" width="1.8" height="1.6" transform="rotate(0 1679.9 279.3)"/><rect x="1673" y="276.7" width="1.8" height="0.9" transform="rotate(60 1673 276.7)"/><rect x="1675.7" y="281.2" width="1.0" height="1.6" transform="rotate(45 1675.7 281.2)"/><rect x="1675" y="276.2" width="2.4" height="1.6" transform="rotate(60 1675 276.2)"/><rect x="1672.5" y="274.1" width="1.8" height="1.2" transform="rotate(0 1672.5 274.1)"/><rect x="1684.3" y="283.2" width="2.4" height="1.2" transform="rotate(60 1684.3 283.2)"/><rect x="1691.8" y="281" width="2.4" height="1.2" transform="rotate(30 1691.8 281)"/><rect x="1689.3" y="281.9" width="1.4" height="1.2" transform="rotate(30 1689.3 281.9)"/><rect x="1690.4" y="281.3" width="2.4" height="0.9" transform="rotate(30 1690.4 281.3)"/><rect x="1687.8" y="282.3" width="1.4" height="1.2" transform="rotate(45 1687.8 282.3)"/><rect x="1690.2" y="285" width="2.4" height="0.9" transform="rotate(30 1690.2 285)"/><rect x="1684.5" y="279.7" width="1.4" height="0.9" transform="rotate(60 1684.5 279.7)"/><rect x="1691.3" y="279.9" width="1.8" height="0.9" transform="rotate(30 1691.3 279.9)"/><rect x="1687.5" y="281.1" width="1.8" height="0.9" transform="rotate(0 1687.5 281.1)"/><rect x="1687.9" y="284.3" width="2.4" height="1.2" transform="rotate(60 1687.9 284.3)"/><rect x="1687.3" y="281.8" width="2.4" height="0.9" transform="rotate(30 1687.3 281.8)"/><rect x="1684.3" y="280.1" width="1.4" height="0.9" transform="rotate(45 1684.3 280.1)"/><rect x="1689.2" y="279.4" width="1.4" height="1.6" transform="rotate(0 1689.2 279.4)"/><rect x="1692.4" y="282.7" width="1.0" height="0.9" transform="rotate(60 1692.4 282.7)"/><rect x="1677.7" y="285.1" width="1.8" height="1.6" transform="rotate(45 1677.7 285.1)"/><rect x="1679.5" y="284.4" width="2.4" height="1.2" transform="rotate(60 1679.5 284.4)"/><rect x="1679.5" y="284.2" width="1.0" height="1.6" transform="rotate(45 1679.5 284.2)"/><rect x="1680.9" y="286.4" width="1.4" height="1.6" transform="rotate(0 1680.9 286.4)"/><rect x="1678" y="289" width="1.8" height="0.9" transform="rotate(0 1678 289)"/><rect x="1681" y="285.4" width="1.0" height="1.6" transform="rotate(45 1681 285.4)"/><rect x="1679.7" y="288.7" width="1.8" height="0.9" transform="rotate(45 1679.7 288.7)"/><rect x="1680.4" y="287.1" width="1.4" height="0.9" transform="rotate(60 1680.4 287.1)"/><rect x="1680.9" y="285" width="2.4" height="1.2" transform="rotate(0 1680.9 285)"/><rect x="1692.2" y="293.4" width="2.4" height="1.2" transform="rotate(30 1692.2 293.4)"/><rect x="1688.2" y="294.4" width="2.4" height="1.6" transform="rotate(45 1688.2 294.4)"/><rect x="1691.8" y="290.9" width="1.4" height="0.9" transform="rotate(30 1691.8 290.9)"/><rect x="1685.1" y="290.8" width="2.4" height="1.6" transform="rotate(0 1685.1 290.8)"/><rect x="1685.3" y="292.6" width="1.0" height="1.6" transform="rotate(0 1685.3 292.6)"/><rect x="1691.1" y="293.4" width="1.4" height="1.2" transform="rotate(30 1691.1 293.4)"/><rect x="1684.6" y="292.5" width="1.0" height="1.6" transform="rotate(60 1684.6 292.5)"/><rect x="1685" y="293.2" width="1.0" height="1.6" transform="rotate(30 1685 293.2)"/><rect x="1681" y="289.5" width="1.4" height="1.6" transform="rotate(60 1681 289.5)"/><rect x="1689.7" y="289.6" width="2.4" height="1.6" transform="rotate(45 1689.7 289.6)"/><rect x="1680.9" y="292" width="1.0" height="0.9" transform="rotate(0 1680.9 292)"/><rect x="1685.9" y="294.3" width="2.4" height="0.9" transform="rotate(30 1685.9 294.3)"/><rect x="1679.1" y="290" width="1.4" height="1.6" transform="rotate(45 1679.1 290)"/><rect x="1682.3" y="291.2" width="1.4" height="0.9" transform="rotate(45 1682.3 291.2)"/><rect x="1691" y="292.7" width="2.4" height="1.6" transform="rotate(30 1691 292.7)"/><rect x="1686" y="291.9" width="1.0" height="1.2" transform="rotate(30 1686 291.9)"/><rect x="1687" y="293.4" width="1.4" height="0.9" transform="rotate(30 1687 293.4)"/><rect x="1685.2" y="293.1" width="1.0" height="1.2" transform="rotate(60 1685.2 293.1)"/><rect x="1689.4" y="289.4" width="1.0" height="0.9" transform="rotate(30 1689.4 289.4)"/><rect x="1682.5" y="293.3" width="2.4" height="1.6" transform="rotate(0 1682.5 293.3)"/><rect x="1689.1" y="294.2" width="2.4" height="1.2" transform="rotate(30 1689.1 294.2)"/><rect x="1688.2" y="291.4" width="2.4" height="1.6" transform="rotate(30 1688.2 291.4)"/><rect x="1695.6" y="287" width="1.8" height="1.6" transform="rotate(30 1695.6 287)"/><rect x="1696.2" y="284.3" width="1.0" height="1.2" transform="rotate(60 1696.2 284.3)"/><rect x="1693.8" y="286.2" width="2.4" height="0.9" transform="rotate(30 1693.8 286.2)"/><rect x="1695.4" y="286.6" width="1.4" height="1.6" transform="rotate(45 1695.4 286.6)"/><rect x="1693" y="287" width="2.4" height="0.9" transform="rotate(0 1693 287)"/><rect x="1694.2" y="285.5" width="1.4" height="0.9" transform="rotate(60 1694.2 285.5)"/><rect x="1696.9" y="285.2" width="2.4" height="0.9" transform="rotate(45 1696.9 285.2)"/><rect x="1697.4" y="290" width="1.0" height="1.2" transform="rotate(60 1697.4 290)"/><rect x="1698.5" y="287.5" width="1.8" height="1.6" transform="rotate(45 1698.5 287.5)"/><rect x="1699.1" y="287.6" width="1.4" height="0.9" transform="rotate(0 1699.1 287.6)"/><rect x="1696.9" y="287.5" width="1.4" height="1.2" transform="rotate(30 1696.9 287.5)"/><rect x="1701.7" y="290.5" width="1.8" height="1.2" transform="rotate(30 1701.7 290.5)"/><rect x="1699.3" y="289.3" width="2.4" height="1.6" transform="rotate(45 1699.3 289.3)"/><rect x="1695.4" y="287.6" width="1.4" height="1.2" transform="rotate(0 1695.4 287.6)"/><rect x="1697" y="287.5" width="1.0" height="1.2" transform="rotate(0 1697 287.5)"/><rect x="1699.9" y="288.2" width="1.8" height="0.9" transform="rotate(60 1699.9 288.2)"/><rect x="1694.7" y="291" width="2.4" height="1.2" transform="rotate(30 1694.7 291)"/><rect x="1695" y="290" width="1.0" height="0.9" transform="rotate(45 1695 290)"/><rect x="1695.1" y="288.1" width="1.8" height="1.6" transform="rotate(45 1695.1 288.1)"/><rect x="1702" y="300" width="2.4" height="1.6" transform="rotate(30 1702 300)"/><rect x="1701.3" y="302.2" width="1.8" height="0.9" transform="rotate(0 1701.3 302.2)"/><rect x="1700.6" y="301.1" width="1.4" height="1.6" transform="rotate(60 1700.6 301.1)"/><rect x="1701.2" y="300.9" width="2.4" height="1.6" transform="rotate(60 1701.2 300.9)"/><rect x="1696.8" y="308.4" width="1.8" height="1.6" transform="rotate(30 1696.8 308.4)"/><rect x="1698.2" y="306.7" width="1.4" height="1.2" transform="rotate(45 1698.2 306.7)"/><rect x="1698.2" y="308.3" width="1.0" height="0.9" transform="rotate(45 1698.2 308.3)"/><rect x="1696.5" y="305.8" width="2.4" height="1.6" transform="rotate(45 1696.5 305.8)"/><rect x="1709.6" y="308" width="1.0" height="1.2" transform="rotate(30 1709.6 308)"/><rect x="1708" y="306.7" width="1.8" height="1.2" transform="rotate(45 1708 306.7)"/><rect x="1710.9" y="307.2" width="1.4" height="0.9" transform="rotate(45 1710.9 307.2)"/><rect x="1708.2" y="305.2" width="1.8" height="1.2" transform="rotate(0 1708.2 305.2)"/><rect x="1709.1" y="307" width="1.4" height="0.9" transform="rotate(0 1709.1 307)"/><rect x="1707.7" y="308.7" width="1.4" height="1.2" transform="rotate(0 1707.7 308.7)"/><rect x="1699.8" y="316" width="1.4" height="0.9" transform="rotate(30 1699.8 316)"/><rect x="1700.5" y="317.1" width="2.4" height="1.2" transform="rotate(60 1700.5 317.1)"/><rect x="1699.2" y="317.1" width="1.4" height="0.9" transform="rotate(60 1699.2 317.1)"/><rect x="1709.1" y="317.9" width="1.4" height="1.6" transform="rotate(0 1709.1 317.9)"/><rect x="1709.8" y="316.7" width="1.4" height="0.9" transform="rotate(0 1709.8 316.7)"/><rect x="1704.1" y="317" width="1.0" height="1.2" transform="rotate(60 1704.1 317)"/><rect x="1707.8" y="316.9" width="1.4" height="1.2" transform="rotate(45 1707.8 316.9)"/><rect x="1703.8" y="317.8" width="1.0" height="1.6" transform="rotate(0 1703.8 317.8)"/><rect x="1709.2" y="316.2" width="1.0" height="1.2" transform="rotate(30 1709.2 316.2)"/><rect x="1709.1" y="314.8" width="2.4" height="1.2" transform="rotate(60 1709.1 314.8)"/><rect x="1704.3" y="318.4" width="1.8" height="0.9" transform="rotate(30 1704.3 318.4)"/><rect x="1704.3" y="314.5" width="1.8" height="1.6" transform="rotate(45 1704.3 314.5)"/><rect x="1714" y="319.2" width="2.4" height="0.9" transform="rotate(60 1714 319.2)"/><rect x="1710.7" y="324.6" width="1.4" height="1.6" transform="rotate(60 1710.7 324.6)"/><rect x="1710.9" y="323.1" width="2.4" height="1.2" transform="rotate(60 1710.9 323.1)"/><rect x="1715.3" y="327.8" width="1.4" height="1.2" transform="rotate(0 1715.3 327.8)"/><rect x="1716.8" y="318.1" width="2.4" height="0.9" transform="rotate(60 1716.8 318.1)"/><rect x="1717.3" y="321.8" width="1.4" height="0.9" transform="rotate(0 1717.3 321.8)"/><rect x="1709.6" y="323.1" width="1.8" height="0.9" transform="rotate(45 1709.6 323.1)"/><rect x="1716.4" y="324.9" width="1.4" height="1.2" transform="rotate(60 1716.4 324.9)"/><rect x="1711.9" y="319.5" width="2.4" height="1.6" transform="rotate(60 1711.9 319.5)"/><rect x="1712" y="325.2" width="2.4" height="1.2" transform="rotate(60 1712 325.2)"/><rect x="1711.2" y="326.3" width="1.0" height="1.2" transform="rotate(45 1711.2 326.3)"/><rect x="1715.9" y="319.1" width="1.4" height="1.6" transform="rotate(0 1715.9 319.1)"/><rect x="1716.5" y="320.8" width="1.8" height="0.9" transform="rotate(60 1716.5 320.8)"/><rect x="1711.9" y="326.6" width="1.0" height="1.2" transform="rotate(60 1711.9 326.6)"/><rect x="1715.2" y="326.4" width="1.8" height="0.9" transform="rotate(0 1715.2 326.4)"/><rect x="1715.9" y="320.7" width="1.4" height="0.9" transform="rotate(45 1715.9 320.7)"/></g>
<path d="M1722 318 L1736 330 L1737 336 L1726 337 L1722 333 L1718 322Z" fill="#b0c4de"/>
<path d="M1740 352 L1758 362 L1758 376 L1770 386 L1780 398 L1770 394 L1758 384 L1750 372 L1746 362Z" fill="#a4bde0"/>
<path d="M1789.1 366.8 L1795.5 373.2 L1801 381.4 L1808.2 388.7 L1809.2 395 L1810.1 400.9 L1815.1 396.4 L1817.3 401.4 L1818.3 406.9 L1822.8 412.3 L1825.5 419.6 L1827.4 425.1 L1831 427.8 L1835.5 416 L1831.9 404.1 L1828.3 399.6 L1821 392.3 L1815.5 385 L1808.2 378.7 L1801 370.5 L1793.7 365.9Z" fill="#97b6e1"/>
<path d="M1797.3 371.4 L1804.6 378.7 L1812.8 386.8 L1819.2 395 L1824.6 403.2 L1827.4 412.3 L1829.2 421.4 L1834.6 416 L1831.9 404.1 L1828.3 399.6 L1821 392.3 L1815.5 385 L1808.2 378.7 L1801 370.5Z" fill="#a9c0e0"/>
<path d="M1750.1 330.9 L1747.3 327.3 L1741.9 322.8 L1739.2 317.3 L1734.6 313.7 L1731 310 L1729.6 305.5 L1728.7 300 L1727.9 297.9 L1726.5 293.3 L1727 289.7 L1727.4 285.6 L1731.9 287.9 L1735.6 289.7 L1738.3 288.3 L1741.1 290.6 L1744.7 292.4 L1747.4 294.2 L1747.9 297.9 L1748.5 301.5 L1750.1 304.5 L1751.9 310 L1754.6 315.5 L1756.4 319.6 L1759.2 323.7 L1763.7 328.2 L1767.4 332.8Z" fill="#97b6e1"/>
<path d="M1739.2 317.3 L1734.6 313.7 L1731 310 L1729.6 305.5 L1728.7 300 L1727.9 297.9 L1726.5 293.3 L1727 289.7 L1727.4 285.6 L1731.9 287.9 L1735.6 289.7 L1738.3 288.3 L1741.1 290.6 L1744.7 292.4 L1747.4 294.2 L1747.9 297.9 L1748.5 301.5 L1750.1 304.5 L1751.9 310 L1754.6 315.5Z" fill="#b0c4de"/>
<path d="M1735 300 L1741 302 L1746 312 L1750 322 L1745 318 L1740 310Z" fill="#97b6e1"/>
<path d="M1929 330 L1926.9 332.8 L1923 340 L1924.5 350 L1925.6 361.1 L1919.8 368.8 L1918.5 379.1 L1919.2 392 L1918.5 402.2 L1919.8 409.9 L1923.7 418.9 L1929 429Z" fill="#b0c4de"/>
<path d="M1926 372 L1929 372 L1929 415 L1926 410Z" fill="#7da3e6"/>
<path d="M1692.4 261.5 L1695.6 263.7 L1698.7 266.9 L1700.6 270.6 L1701 274.2 L1702.8 276.9 L1704.7 281.5 L1706.5 285.1 L1708.3 288.8 L1710.1 293.3 L1712.4 297.9 L1713.4 300.5 L1714.1 303.6 L1716.9 307.3 L1717.3 312.7 L1720.9 315 L1725.5 318.2 L1730.1 322.3 L1734.1 326.4 L1736.4 330 L1736.9 334.1 L1734.6 336.4 L1731 337.3 L1726.4 336.9 L1723.2 335 L1725.5 338.7 L1729.1 341.9 L1732.8 345.5 L1737.3 348.2 L1741.9 350.5 L1746 349.1 L1747.3 351.9 L1751.9 355.5 L1756.4 359.2 L1758.7 363.7 L1759.2 367.5 L1757.4 371.5 L1756.4 375 L1760 378.7 L1765.5 381.4 L1770.9 384.6 L1775.5 388.2 L1779.1 391.8 L1780.5 395.9 L1782.3 399.1 L1786.4 396.9 L1789.1 393.2 L1788.2 389.6 L1785 386.8 L1784.1 383.2 L1780 382.3 L1777.5 381 L1775.5 378.5 L1773.7 375 L1772.8 372 L1771 369.2 L1768.7 364.6 L1766.4 360.1 L1764.6 355.5 L1761.9 351.9 L1759.2 347.3 L1756.4 342.8 L1752.8 339.1 L1750.5 335.5 L1750.1 330.9 L1747.3 327.3 L1741.9 322.8 L1739.2 317.3 L1734.6 313.7 L1731 310 L1729.6 305.5 L1728.7 300 L1727.9 297.9 L1726.5 293.3 L1727 289.7 L1727.4 285.6 L1731.9 287.9 L1735.6 289.7 L1738.3 288.3 L1741.1 290.6 L1744.7 292.4 L1747.4 294.2 L1747.9 297.9 L1748.5 301.5 L1750.1 304.5 L1751.9 310 L1754.6 315.5 L1756.4 319.6 L1759.2 323.7 L1763.7 328.2 L1767.4 332.8 L1771 335.9 L1775.5 336.9 L1776 340.9 L1777.4 344.6 L1781.9 346.4 L1783.7 350.1 L1788.3 351.9 L1791.9 354.6 L1792.4 358.2 L1788.7 360.1 L1788.3 363.7 L1791.9 365.5 L1796.5 367.5 L1801 370.5 L1804.6 375 L1810.1 379.6 L1814.6 383.2 L1817.3 387.8 L1821.9 393.2 L1826.4 397.8 L1830.1 402.3 L1831.4 406.9 L1832.8 411.4 L1835.5 415.1 L1835.5 418.7 L1834.7 420.5 L1835.4 423.5 L1836.1 426 L1830.4 427.8 L1831.1 431.3 L1834 435.6 L1838.2 441.2 L1842.5 443.4 L1846.7 444.4 L1851 447.2 L1855.2 453.3 L1860.2 455 L1865.1 456.8 L1870.8 457.9 L1872.9 457.5 L1876.4 461.1 L1882.8 465.3 L1889.2 467.4 L1895.5 469.9 L1899.1 472.4 L1904 473.4 L1908.3 473.8 L1910.4 476.3 L1916.1 478 L1919.6 480.9 L1924.6 481.2 L1928.5 482.3 L1928.5 428.5 L1923.7 418.9 L1919.8 409.9 L1918.5 402.2 L1919.2 392 L1918.5 379.1 L1919.8 368.8 L1925.6 361.1 L1924.5 350 L1923 340 L1926.9 332.8 L1928.5 331 L1928.5 261.5Z" fill="#d2b48c"/>
<g fill="none" stroke="#97b6e1" stroke-width="1.5" stroke-linejoin="round" stroke-linecap="round">
<path d="M1724.7 284.2 L1723.3 281.5 L1726.5 276.9 L1729.2 274.2 L1735.6 272.4 L1742.9 270.1 L1750.2 267.8 L1753.8 265.6 L1758.4 266.5 L1762.9 268.3 L1770 269.8 L1764.6 269.8 L1770 268.8 L1773.7 269.8 L1778.2 267.8 L1781.8 269.2 L1785.5 272.4 L1790 270.6 L1791.9 273.3 L1795 275.1 L1797.3 272.4 L1799.1 269.7 L1802.3 267.4 L1803.2 264.2 L1802.3 262.8"/>
<path d="M1816 261.5 L1813.7 266 L1812.8 271.5 L1814.6 275.1 L1816.9 277.4 L1819.2 283.3"/>
<path d="M1819.2 283.3 L1823.7 289.7 L1830.1 295.1 L1838.3 300.6 L1841.4 308.8 L1844.6 315.2 L1849.2 318.3 L1854.6 321.1 L1858.7 322.9 L1861.9 318.8 L1864.7 313.3 L1868.3 311.5 L1876.5 312.4 L1881.9 316.1 L1887.4 321.5 L1891 329.3 L1891.6 330.3 L1899.3 340.6 L1900.6 345.7 L1904.4 353.4 L1912.1 357.9 L1919.8 360.5 L1925.6 361.1"/>
<path d="M1876 263.3 L1880.1 267.4 L1884.7 268.8 L1888.3 271 L1893.8 269.7 L1895.1 265.1 L1900.1 262.4 L1903.3 263.3 L1909.2 269.2 L1914.7 273.3 L1920.2 277.9 L1923.8 283.3 L1927.9 290.6"/>
<path d="M1833.7 412.3 L1837.4 411.4 L1841 411.9 L1843.7 415.1 L1846.5 418.7 L1850.1 420.5 L1852.8 422.3 L1855.6 420.5 L1857.4 423.2 L1859.2 426.9 L1862.8 428.7 L1863.3 430.5 L1858.3 430.3"/>
<path d="M1891.1 408.2 L1894.7 411.4 L1898.3 413.2 L1902.9 413.7 L1906.5 411.4 L1910.2 410 L1913.8 408.7 L1918.4 406.4"/>
</g>
<ellipse cx="1860.6" cy="430.4" rx="3.2" ry="0.9" fill="#97b6e1"/>
<path d="M1714.5 263.5 L1717.5 267.5" stroke="#b5b5b5" stroke-width="1.4" fill="none"/>
<g fill="none" stroke="#000" stroke-width="2.5" stroke-linejoin="round" stroke-linecap="round">
<path d="M1692.4 261.5 L1695.6 263.7 L1698.7 266.9 L1700.6 270.6 L1701 274.2 L1702.8 276.9 L1704.7 281.5 L1706.5 285.1 L1708.3 288.8 L1710.1 293.3 L1712.4 297.9 L1713.4 300.5 L1714.1 303.6 L1716.9 307.3 L1717.3 312.7 L1720.9 315 L1725.5 318.2 L1730.1 322.3 L1734.1 326.4 L1736.4 330 L1736.9 334.1 L1734.6 336.4 L1731 337.3 L1726.4 336.9 L1723.2 335 L1725.5 338.7 L1729.1 341.9 L1732.8 345.5 L1737.3 348.2 L1741.9 350.5 L1746 349.1 L1747.3 351.9 L1751.9 355.5 L1756.4 359.2 L1758.7 363.7 L1759.2 367.5 L1757.4 371.5 L1756.4 375 L1760 378.7 L1765.5 381.4 L1770.9 384.6 L1775.5 388.2 L1779.1 391.8 L1780.5 395.9 L1782.3 399.1 L1786.4 396.9 L1789.1 393.2 L1788.2 389.6 L1785 386.8 L1784.1 383.2 L1780 382.3 L1777.5 381 L1775.5 378.5 L1773.7 375 L1772.8 372 L1771 369.2 L1768.7 364.6 L1766.4 360.1 L1764.6 355.5 L1761.9 351.9 L1759.2 347.3 L1756.4 342.8 L1752.8 339.1 L1750.5 335.5 L1750.1 330.9 L1747.3 327.3 L1741.9 322.8 L1739.2 317.3 L1734.6 313.7 L1731 310 L1729.6 305.5 L1728.7 300 L1727.9 297.9 L1726.5 293.3 L1727 289.7 L1727.4 285.6 L1731.9 287.9 L1735.6 289.7 L1738.3 288.3 L1741.1 290.6 L1744.7 292.4 L1747.4 294.2 L1747.9 297.9 L1748.5 301.5 L1750.1 304.5 L1751.9 310 L1754.6 315.5 L1756.4 319.6 L1759.2 323.7 L1763.7 328.2 L1767.4 332.8 L1771 335.9 L1775.5 336.9 L1776 340.9 L1777.4 344.6 L1781.9 346.4 L1783.7 350.1 L1788.3 351.9 L1791.9 354.6 L1792.4 358.2 L1788.7 360.1 L1788.3 363.7 L1791.9 365.5 L1796.5 367.5 L1801 370.5 L1804.6 375 L1810.1 379.6 L1814.6 383.2 L1817.3 387.8 L1821.9 393.2 L1826.4 397.8 L1830.1 402.3 L1831.4 406.9 L1832.8 411.4 L1835.5 415.1 L1835.5 418.7 L1834.7 420.5 L1835.4 423.5 L1836.1 426 L1830.4 427.8 L1831.1 431.3 L1834 435.6 L1838.2 441.2 L1842.5 443.4 L1846.7 444.4 L1851 447.2 L1855.2 453.3 L1860.2 455 L1865.1 456.8 L1870.8 457.9 L1872.9 457.5 L1876.4 461.1 L1882.8 465.3 L1889.2 467.4 L1895.5 469.9 L1899.1 472.4 L1904 473.4 L1908.3 473.8 L1910.4 476.3 L1916.1 478 L1919.6 480.9 L1924.6 481.2 L1928.5 482.3"/>
<path d="M1928.5 428.5 L1923.7 418.9 L1919.8 409.9 L1918.5 402.2 L1919.2 392 L1918.5 379.1 L1919.8 368.8 L1925.6 361.1 L1924.5 350 L1923 340 L1926.9 332.8 L1928.5 331"/>
</g>
<path d="M1922 334 L1927.5 331.5 L1927 336 L1924.5 341 L1925.5 350 L1926.5 358 L1924 358 L1922.5 350 L1921 343 L1919 344 L1919 341 L1922 339Z" fill="#000"/>
<path d="M1919.5 367.5 L1924.5 366 L1922 373 L1920.5 381 L1918.5 379Z" fill="#3c4a63"/>
<path d="M1919.5 410 L1924 415 L1928 423 L1928 428 L1923.5 419.5Z" fill="#000"/>
<g fill="none" stroke="#000" stroke-width="1.7">
<path d="M1793 261 L1793 292.6"/>
<path d="M1819.5 283.4 L1860.2 283.4 L1860.2 261"/>
<path d="M1702.4 276.5 L1712.9 275.3 L1722 274.7 L1728.3 274.2 L1732 276.9 L1744.7 281.9 L1758.4 287 L1760 288.3 L1769.1 292.4 L1792.9 292.9 L1802.3 292.9 L1802.3 286.5 L1819.2 286" stroke-dasharray="5 2.2"/>
<path d="M1819.2 283.3 L1823.7 289.7 L1830.1 295.1 L1838.3 300.6 L1841.4 308.8 L1844.6 315.2 L1849.2 318.3 L1854.6 321.1 L1858.7 322.9 L1861.9 318.8 L1864.7 313.3 L1868.3 311.5 L1876.5 312.4 L1881.9 316.1 L1887.4 321.5 L1891 329.3 L1891.6 330.3 L1899.3 340.6 L1900.6 345.7 L1904.4 353.4 L1912.1 357.9 L1919.8 360.5 L1925.6 361.1" stroke-dasharray="5 2.2"/>
<path d="M1730.6 261.5 L1728.8 265.6 L1731.1 268.8 L1730.6 272.4 L1728.3 274.2"/>
</g>
<g fill="#000">
<ellipse cx="1674.8" cy="267.1" rx="1.9" ry="1.2" transform="rotate(20 1674.8 267.1)"/>
<ellipse cx="1686.8" cy="265.2" rx="2.2" ry="1.3" transform="rotate(40 1686.8 265.2)"/>
<ellipse cx="1686.5" cy="271.5" rx="2.6" ry="1.3" transform="rotate(50 1686.5 271.5)"/>
<ellipse cx="1688.7" cy="321.7" rx="1.6" ry="2.4" transform="rotate(-5 1688.7 321.7)"/>
<ellipse cx="1722.8" cy="332.3" rx="1.7" ry="2.8" transform="rotate(-10 1722.8 332.3)"/>
<ellipse cx="1744.2" cy="320.5" rx="2.6" ry="6.2" transform="rotate(-28 1744.2 320.5)"/>
<ellipse cx="1755.5" cy="322.5" rx="1.2" ry="2.6" transform="rotate(-5 1755.5 322.5)"/>
<ellipse cx="1763.3" cy="352" rx="1.5" ry="2.6" transform="rotate(-25 1763.3 352)"/>
<ellipse cx="1768.8" cy="362.5" rx="1.3" ry="2.6" transform="rotate(-15 1768.8 362.5)"/>
<ellipse cx="1771.7" cy="368.8" rx="0.9" ry="0.9" transform="rotate(0 1771.7 368.8)"/>
<ellipse cx="1773" cy="373.5" rx="0.9" ry="0.9" transform="rotate(0 1773 373.5)"/>
<ellipse cx="1821.6" cy="415" rx="1.3" ry="4.2" transform="rotate(-42 1821.6 415)"/>
<ellipse cx="1771.1" cy="447.8" rx="1.7" ry="1.7" transform="rotate(0 1771.1 447.8)"/>
<ellipse cx="1773" cy="441.5" rx="1.0" ry="1.0" transform="rotate(0 1773 441.5)"/>
<ellipse cx="1728.6" cy="452.9" rx="1.2" ry="1.0" transform="rotate(0 1728.6 452.9)"/>
<ellipse cx="1776.5" cy="376.5" rx="1.3" ry="2.4" transform="rotate(-20 1776.5 376.5)"/>
<ellipse cx="1782.5" cy="379.5" rx="1.2" ry="2.6" transform="rotate(-10 1782.5 379.5)"/>
</g>
<circle cx="1680.1" cy="264.1" r="1.1" fill="#76839b"/>
<g fill="#9fbbe6">
<rect x="1638.5" y="304" width="1.6" height="1.4"/>
<rect x="1669" y="307" width="1.6" height="1.4"/>
<rect x="1716" y="374" width="1.6" height="1.4"/>
<rect x="1676" y="414" width="1.6" height="1.4"/>
<rect x="1624" y="461" width="1.6" height="1.4"/>
<rect x="1675" y="452" width="1.6" height="1.4"/>
<rect x="1701" y="453" width="1.6" height="1.4"/>
<rect x="1761" y="445" width="1.6" height="1.4"/>
<rect x="1662" y="505" width="1.6" height="1.4"/>
<rect x="1672" y="510" width="1.6" height="1.4"/>
<rect x="1674" y="525" width="1.6" height="1.4"/>
<rect x="1780" y="545" width="1.6" height="1.4"/>
<rect x="1793" y="546" width="1.6" height="1.4"/>
<rect x="1772" y="480" width="1.6" height="1.4"/>
<rect x="1790" y="478" width="1.6" height="1.4"/>
<rect x="1866" y="511" width="1.6" height="1.4"/>
<rect x="1698" y="466" width="1.6" height="1.4"/>
<rect x="1730" y="474" width="1.6" height="1.4"/>
<rect x="1646" y="358" width="1.6" height="1.4"/>
<rect x="1681" y="369" width="1.6" height="1.4"/>
<rect x="1735" y="374" width="1.6" height="1.4"/>
</g>
</g>
<path d="M1692 261.2 H1928.5" stroke="#c9c4bc" stroke-width="0.9" fill="none"/>
<path d="M1692.5 261.5 H1602.5 V572.3 H1928.5" stroke="#000" stroke-width="1.3" fill="none"/>
<path d="M1928.5 261.5 V572.9" stroke="#000" stroke-width="1.0" fill="none"/>
<path d="M1593.5 561.4H1602.5M1928.5 561.4H1937.5M1593.5 527.5H1602.5M1928.5 527.5H1937.5M1593.5 492.3H1602.5M1928.5 492.3H1937.5M1593.5 457.5H1602.5M1928.5 457.5H1937.5M1593.5 422.5H1602.5M1928.5 422.5H1937.5M1593.5 385.5H1602.5M1928.5 385.5H1937.5M1593.5 348.3H1602.5M1928.5 348.3H1937.5M1593.5 310.4H1602.5M1928.5 310.4H1937.5M1593.5 270.4H1602.5M1928.5 270.4H1937.5M1602.5 252.7V261.5M1602.5 572.3V581.1M1636.3 252.7V261.5M1636.3 572.3V581.1M1670 252.7V261.5M1670 572.3V581.1M1703.8 252.7V261.5M1703.8 572.3V581.1M1737.6 252.7V261.5M1737.6 572.3V581.1M1771.3 252.7V261.5M1771.3 572.3V581.1M1805.1 252.7V261.5M1805.1 572.3V581.1M1838.9 252.7V261.5M1838.9 572.3V581.1M1872.6 252.7V261.5M1872.6 572.3V581.1M1906.4 252.7V261.5M1906.4 572.3V581.1" stroke="#000" stroke-width="2.7" fill="none"/>
<path d="M1599.1 572.7H1602.5M1928.5 572.7H1931.5M1599.1 550.1H1602.5M1928.5 550.1H1931.5M1599.1 538.8H1602.5M1928.5 538.8H1931.5M1599.1 515.8H1602.5M1928.5 515.8H1931.5M1599.1 504.1H1602.5M1928.5 504.1H1931.5M1599.1 480.8H1602.5M1928.5 480.8H1931.5M1599.1 469.2H1602.5M1928.5 469.2H1931.5M1599.1 445.9H1602.5M1928.5 445.9H1931.5M1599.1 434.2H1602.5M1928.5 434.2H1931.5M1599.1 410.3H1602.5M1928.5 410.3H1931.5M1599.1 397.9H1602.5M1928.5 397.9H1931.5M1599.1 373.2H1602.5M1928.5 373.2H1931.5M1599.1 360.8H1602.5M1928.5 360.8H1931.5M1599.1 335.8H1602.5M1928.5 335.8H1931.5M1599.1 323.2H1602.5M1928.5 323.2H1931.5M1599.1 297.2H1602.5M1928.5 297.2H1931.5M1599.1 283.9H1602.5M1928.5 283.9H1931.5M1613.8 258.3V261.5M1613.8 572.3V575.1M1625 258.3V261.5M1625 572.3V575.1M1647.5 258.3V261.5M1647.5 572.3V575.1M1658.8 258.3V261.5M1658.8 572.3V575.1M1681.3 258.3V261.5M1681.3 572.3V575.1M1692.5 258.3V261.5M1692.5 572.3V575.1M1715.1 258.3V261.5M1715.1 572.3V575.1M1726.3 258.3V261.5M1726.3 572.3V575.1M1748.8 258.3V261.5M1748.8 572.3V575.1M1760.1 258.3V261.5M1760.1 572.3V575.1M1782.6 258.3V261.5M1782.6 572.3V575.1M1793.8 258.3V261.5M1793.8 572.3V575.1M1816.4 258.3V261.5M1816.4 572.3V575.1M1827.6 258.3V261.5M1827.6 572.3V575.1M1850.1 258.3V261.5M1850.1 572.3V575.1M1861.4 258.3V261.5M1861.4 572.3V575.1M1883.9 258.3V261.5M1883.9 572.3V575.1M1895.1 258.3V261.5M1895.1 572.3V575.1M1917.7 258.3V261.5M1917.7 572.3V575.1M1928.2 258.3V261.5M1928.2 572.3V575.1" stroke="#000" stroke-width="1.4" fill="none"/>
<circle cx="1665.1" cy="268.9" r="4.0" fill="#000"/>
<circle cx="1664.6" cy="267.8" r="3.55" fill="#ff0000" stroke="#000" stroke-width="1.3"/>
<text class="ml" text-anchor="end" x="1586.6" y="570.7">9°N</text>
<text class="ml" text-anchor="end" x="1586.6" y="536.8">12°N</text>
<text class="ml" text-anchor="end" x="1586.6" y="501.6">15°N</text>
<text class="ml" text-anchor="end" x="1586.6" y="466.8">18°N</text>
<text class="ml" text-anchor="end" x="1586.6" y="431.8">21°N</text>
<text class="ml" text-anchor="end" x="1586.6" y="394.8">24°N</text>
<text class="ml" text-anchor="end" x="1586.6" y="357.6">27°N</text>
<text class="ml" text-anchor="end" x="1586.6" y="319.7">30°N</text>
<text class="ml" text-anchor="end" x="1586.6" y="279.7">33°N</text>
<text class="ml" text-anchor="middle" transform="translate(1606.2,630.6) rotate(-45)">126°W</text>
<text class="ml" text-anchor="middle" transform="translate(1640,630.6) rotate(-45)">123°W</text>
<text class="ml" text-anchor="middle" transform="translate(1673.7,630.6) rotate(-45)">120°W</text>
<text class="ml" text-anchor="middle" transform="translate(1707.5,630.6) rotate(-45)">117°W</text>
<text class="ml" text-anchor="middle" transform="translate(1741.3,630.6) rotate(-45)">114°W</text>
<text class="ml" text-anchor="middle" transform="translate(1775,630.6) rotate(-45)">111°W</text>
<text class="ml" text-anchor="middle" transform="translate(1808.8,630.6) rotate(-45)">108°W</text>
<text class="ml" text-anchor="middle" transform="translate(1842.6,630.6) rotate(-45)">105°W</text>
<text class="ml" text-anchor="middle" transform="translate(1876.3,630.6) rotate(-45)">102°W</text>
<text class="ml" text-anchor="middle" transform="translate(1910.1,625.7) rotate(-45)">99°W</text>
<rect x="1682.8" y="664.8" width="165.2" height="143.8" rx="4.5" ry="4.5" fill="#fff" fill-opacity="0.8" stroke="#cccccc" stroke-width="1.67"/>
<line x1="1691.3" y1="684.4" x2="1738.7" y2="684.4" stroke="#0000ff" stroke-width="2.7"/>
<circle cx="1714.6" cy="684.4" r="6.1" fill="#0000ff"/>
<text class="lg" x="1755.3" y="692.7">sp011</text>
<line x1="1691.3" y1="718.5" x2="1738.7" y2="718.5" stroke="#ff0000" stroke-width="2.7"/>
<circle cx="1714.6" cy="718.5" r="6.1" fill="#ff0000"/>
<text class="lg" x="1755.3" y="726.8">RTOFS</text>
<line x1="1691.3" y1="752.5" x2="1738.7" y2="752.5" stroke="#008000" stroke-width="2.7"/>
<circle cx="1714.6" cy="752.5" r="6.1" fill="#008000"/>
<text class="lg" x="1755.3" y="760.8">ESPC</text>
<line x1="1691.3" y1="787.6" x2="1738.7" y2="787.6" stroke="#ff00ff" stroke-width="2.7"/>
<circle cx="1714.6" cy="787.6" r="6.1" fill="#ff00ff"/>
<text class="lg" x="1755.3" y="794.8">CMEMS</text>
</svg>
</body>
</html>
